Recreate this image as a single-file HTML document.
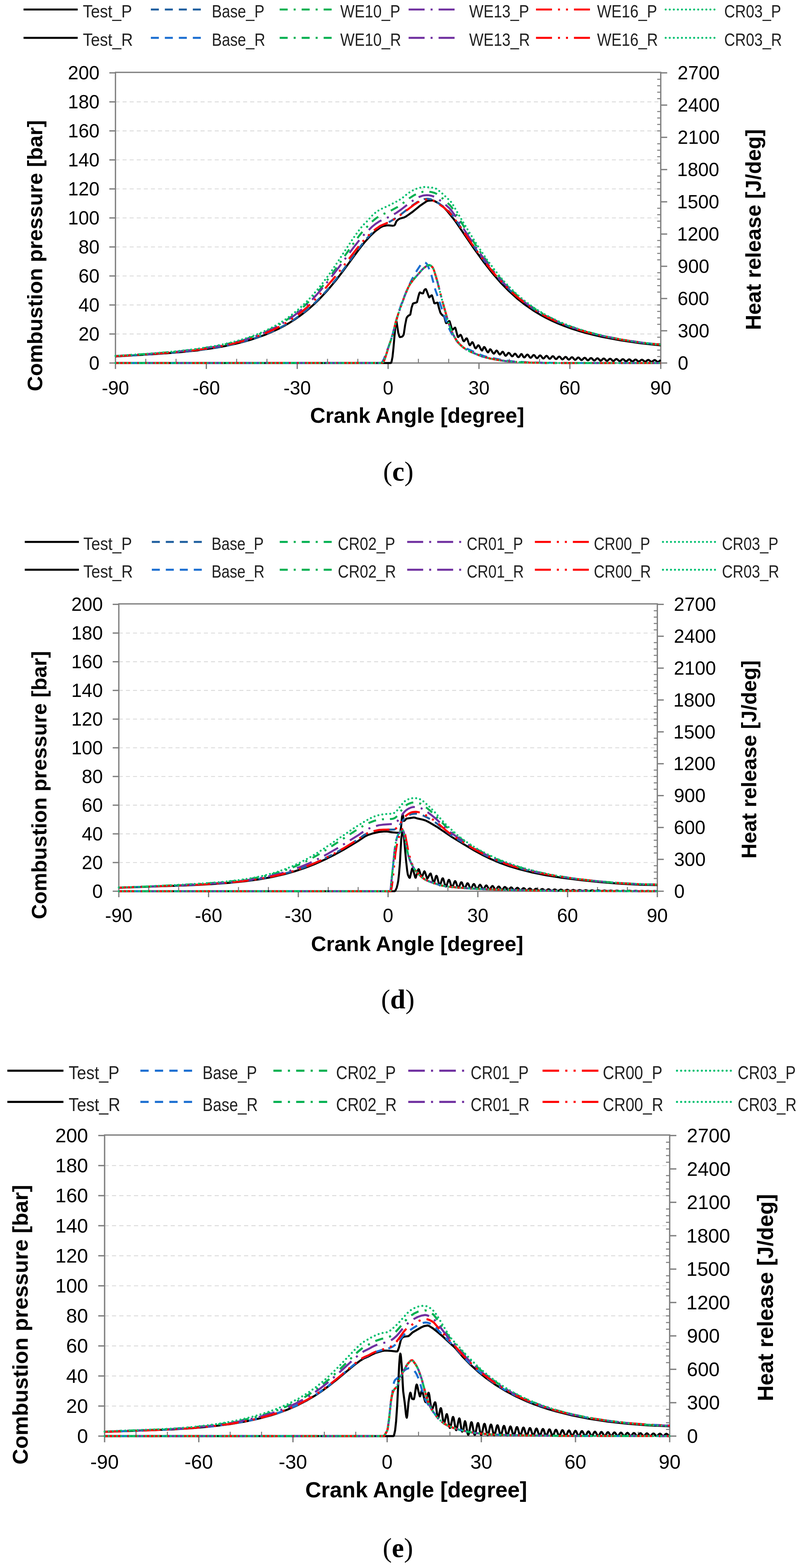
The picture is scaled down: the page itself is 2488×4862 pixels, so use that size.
<!DOCTYPE html>
<html><head><meta charset="utf-8"><title>Combustion pressure and heat release</title>
<style>html,body{margin:0;padding:0;background:#fff;}svg{display:block;}</style></head>
<body><svg width="2488" height="4862" viewBox="0 0 2488 4862" font-family="Liberation Sans, sans-serif">
<rect width="2488" height="4862" fill="#fff"/>
<line x1="358.2" y1="1035.63" x2="2049.8" y2="1035.63" stroke="#d9d9d9" stroke-width="2.6" stroke-dasharray="12.5 9.5"/>
<line x1="358.2" y1="945.66" x2="2049.8" y2="945.66" stroke="#d9d9d9" stroke-width="2.6" stroke-dasharray="12.5 9.5"/>
<line x1="358.2" y1="855.69" x2="2049.8" y2="855.69" stroke="#d9d9d9" stroke-width="2.6" stroke-dasharray="12.5 9.5"/>
<line x1="358.2" y1="765.72" x2="2049.8" y2="765.72" stroke="#d9d9d9" stroke-width="2.6" stroke-dasharray="12.5 9.5"/>
<line x1="358.2" y1="675.75" x2="2049.8" y2="675.75" stroke="#d9d9d9" stroke-width="2.6" stroke-dasharray="12.5 9.5"/>
<line x1="358.2" y1="585.78" x2="2049.8" y2="585.78" stroke="#d9d9d9" stroke-width="2.6" stroke-dasharray="12.5 9.5"/>
<line x1="358.2" y1="495.81" x2="2049.8" y2="495.81" stroke="#d9d9d9" stroke-width="2.6" stroke-dasharray="12.5 9.5"/>
<line x1="358.2" y1="405.84" x2="2049.8" y2="405.84" stroke="#d9d9d9" stroke-width="2.6" stroke-dasharray="12.5 9.5"/>
<line x1="358.2" y1="315.87" x2="2049.8" y2="315.87" stroke="#d9d9d9" stroke-width="2.6" stroke-dasharray="12.5 9.5"/>
<line x1="339.2" y1="1125.6" x2="358.2" y2="1125.6" stroke="#7f7f7f" stroke-width="4"/>
<line x1="339.2" y1="1035.63" x2="358.2" y2="1035.63" stroke="#7f7f7f" stroke-width="4"/>
<line x1="339.2" y1="945.66" x2="358.2" y2="945.66" stroke="#7f7f7f" stroke-width="4"/>
<line x1="339.2" y1="855.69" x2="358.2" y2="855.69" stroke="#7f7f7f" stroke-width="4"/>
<line x1="339.2" y1="765.72" x2="358.2" y2="765.72" stroke="#7f7f7f" stroke-width="4"/>
<line x1="339.2" y1="675.75" x2="358.2" y2="675.75" stroke="#7f7f7f" stroke-width="4"/>
<line x1="339.2" y1="585.78" x2="358.2" y2="585.78" stroke="#7f7f7f" stroke-width="4"/>
<line x1="339.2" y1="495.81" x2="358.2" y2="495.81" stroke="#7f7f7f" stroke-width="4"/>
<line x1="339.2" y1="405.84" x2="358.2" y2="405.84" stroke="#7f7f7f" stroke-width="4"/>
<line x1="339.2" y1="315.87" x2="358.2" y2="315.87" stroke="#7f7f7f" stroke-width="4"/>
<line x1="339.2" y1="225.9" x2="358.2" y2="225.9" stroke="#7f7f7f" stroke-width="4"/>
<line x1="2049.8" y1="1125.6" x2="2069.8" y2="1125.6" stroke="#7f7f7f" stroke-width="4"/>
<line x1="2038.8" y1="1105.61" x2="2049.8" y2="1105.61" stroke="#7f7f7f" stroke-width="3.2"/>
<line x1="2038.8" y1="1085.61" x2="2049.8" y2="1085.61" stroke="#7f7f7f" stroke-width="3.2"/>
<line x1="2038.8" y1="1065.62" x2="2049.8" y2="1065.62" stroke="#7f7f7f" stroke-width="3.2"/>
<line x1="2038.8" y1="1045.63" x2="2049.8" y2="1045.63" stroke="#7f7f7f" stroke-width="3.2"/>
<line x1="2049.8" y1="1025.63" x2="2069.8" y2="1025.63" stroke="#7f7f7f" stroke-width="4"/>
<line x1="2038.8" y1="1005.64" x2="2049.8" y2="1005.64" stroke="#7f7f7f" stroke-width="3.2"/>
<line x1="2038.8" y1="985.65" x2="2049.8" y2="985.65" stroke="#7f7f7f" stroke-width="3.2"/>
<line x1="2038.8" y1="965.65" x2="2049.8" y2="965.65" stroke="#7f7f7f" stroke-width="3.2"/>
<line x1="2038.8" y1="945.66" x2="2049.8" y2="945.66" stroke="#7f7f7f" stroke-width="3.2"/>
<line x1="2049.8" y1="925.67" x2="2069.8" y2="925.67" stroke="#7f7f7f" stroke-width="4"/>
<line x1="2038.8" y1="905.67" x2="2049.8" y2="905.67" stroke="#7f7f7f" stroke-width="3.2"/>
<line x1="2038.8" y1="885.68" x2="2049.8" y2="885.68" stroke="#7f7f7f" stroke-width="3.2"/>
<line x1="2038.8" y1="865.69" x2="2049.8" y2="865.69" stroke="#7f7f7f" stroke-width="3.2"/>
<line x1="2038.8" y1="845.69" x2="2049.8" y2="845.69" stroke="#7f7f7f" stroke-width="3.2"/>
<line x1="2049.8" y1="825.7" x2="2069.8" y2="825.7" stroke="#7f7f7f" stroke-width="4"/>
<line x1="2038.8" y1="805.71" x2="2049.8" y2="805.71" stroke="#7f7f7f" stroke-width="3.2"/>
<line x1="2038.8" y1="785.71" x2="2049.8" y2="785.71" stroke="#7f7f7f" stroke-width="3.2"/>
<line x1="2038.8" y1="765.72" x2="2049.8" y2="765.72" stroke="#7f7f7f" stroke-width="3.2"/>
<line x1="2038.8" y1="745.73" x2="2049.8" y2="745.73" stroke="#7f7f7f" stroke-width="3.2"/>
<line x1="2049.8" y1="725.73" x2="2069.8" y2="725.73" stroke="#7f7f7f" stroke-width="4"/>
<line x1="2038.8" y1="705.74" x2="2049.8" y2="705.74" stroke="#7f7f7f" stroke-width="3.2"/>
<line x1="2038.8" y1="685.75" x2="2049.8" y2="685.75" stroke="#7f7f7f" stroke-width="3.2"/>
<line x1="2038.8" y1="665.75" x2="2049.8" y2="665.75" stroke="#7f7f7f" stroke-width="3.2"/>
<line x1="2038.8" y1="645.76" x2="2049.8" y2="645.76" stroke="#7f7f7f" stroke-width="3.2"/>
<line x1="2049.8" y1="625.77" x2="2069.8" y2="625.77" stroke="#7f7f7f" stroke-width="4"/>
<line x1="2038.8" y1="605.77" x2="2049.8" y2="605.77" stroke="#7f7f7f" stroke-width="3.2"/>
<line x1="2038.8" y1="585.78" x2="2049.8" y2="585.78" stroke="#7f7f7f" stroke-width="3.2"/>
<line x1="2038.8" y1="565.79" x2="2049.8" y2="565.79" stroke="#7f7f7f" stroke-width="3.2"/>
<line x1="2038.8" y1="545.79" x2="2049.8" y2="545.79" stroke="#7f7f7f" stroke-width="3.2"/>
<line x1="2049.8" y1="525.8" x2="2069.8" y2="525.8" stroke="#7f7f7f" stroke-width="4"/>
<line x1="2038.8" y1="505.81" x2="2049.8" y2="505.81" stroke="#7f7f7f" stroke-width="3.2"/>
<line x1="2038.8" y1="485.81" x2="2049.8" y2="485.81" stroke="#7f7f7f" stroke-width="3.2"/>
<line x1="2038.8" y1="465.82" x2="2049.8" y2="465.82" stroke="#7f7f7f" stroke-width="3.2"/>
<line x1="2038.8" y1="445.83" x2="2049.8" y2="445.83" stroke="#7f7f7f" stroke-width="3.2"/>
<line x1="2049.8" y1="425.83" x2="2069.8" y2="425.83" stroke="#7f7f7f" stroke-width="4"/>
<line x1="2038.8" y1="405.84" x2="2049.8" y2="405.84" stroke="#7f7f7f" stroke-width="3.2"/>
<line x1="2038.8" y1="385.85" x2="2049.8" y2="385.85" stroke="#7f7f7f" stroke-width="3.2"/>
<line x1="2038.8" y1="365.85" x2="2049.8" y2="365.85" stroke="#7f7f7f" stroke-width="3.2"/>
<line x1="2038.8" y1="345.86" x2="2049.8" y2="345.86" stroke="#7f7f7f" stroke-width="3.2"/>
<line x1="2049.8" y1="325.87" x2="2069.8" y2="325.87" stroke="#7f7f7f" stroke-width="4"/>
<line x1="2038.8" y1="305.87" x2="2049.8" y2="305.87" stroke="#7f7f7f" stroke-width="3.2"/>
<line x1="2038.8" y1="285.88" x2="2049.8" y2="285.88" stroke="#7f7f7f" stroke-width="3.2"/>
<line x1="2038.8" y1="265.89" x2="2049.8" y2="265.89" stroke="#7f7f7f" stroke-width="3.2"/>
<line x1="2038.8" y1="245.89" x2="2049.8" y2="245.89" stroke="#7f7f7f" stroke-width="3.2"/>
<line x1="2049.8" y1="225.9" x2="2069.8" y2="225.9" stroke="#7f7f7f" stroke-width="4"/>
<line x1="358.2" y1="1125.6" x2="358.2" y2="1144.1" stroke="#7f7f7f" stroke-width="4"/>
<line x1="452.18" y1="1112.6" x2="452.18" y2="1125.6" stroke="#7f7f7f" stroke-width="3.2"/>
<line x1="546.16" y1="1112.6" x2="546.16" y2="1125.6" stroke="#7f7f7f" stroke-width="3.2"/>
<line x1="640.13" y1="1125.6" x2="640.13" y2="1144.1" stroke="#7f7f7f" stroke-width="4"/>
<line x1="734.11" y1="1112.6" x2="734.11" y2="1125.6" stroke="#7f7f7f" stroke-width="3.2"/>
<line x1="828.09" y1="1112.6" x2="828.09" y2="1125.6" stroke="#7f7f7f" stroke-width="3.2"/>
<line x1="922.07" y1="1125.6" x2="922.07" y2="1144.1" stroke="#7f7f7f" stroke-width="4"/>
<line x1="1016.04" y1="1112.6" x2="1016.04" y2="1125.6" stroke="#7f7f7f" stroke-width="3.2"/>
<line x1="1110.02" y1="1112.6" x2="1110.02" y2="1125.6" stroke="#7f7f7f" stroke-width="3.2"/>
<line x1="1204" y1="1125.6" x2="1204" y2="1144.1" stroke="#7f7f7f" stroke-width="4"/>
<line x1="1297.98" y1="1112.6" x2="1297.98" y2="1125.6" stroke="#7f7f7f" stroke-width="3.2"/>
<line x1="1391.96" y1="1112.6" x2="1391.96" y2="1125.6" stroke="#7f7f7f" stroke-width="3.2"/>
<line x1="1485.93" y1="1125.6" x2="1485.93" y2="1144.1" stroke="#7f7f7f" stroke-width="4"/>
<line x1="1579.91" y1="1112.6" x2="1579.91" y2="1125.6" stroke="#7f7f7f" stroke-width="3.2"/>
<line x1="1673.89" y1="1112.6" x2="1673.89" y2="1125.6" stroke="#7f7f7f" stroke-width="3.2"/>
<line x1="1767.87" y1="1125.6" x2="1767.87" y2="1144.1" stroke="#7f7f7f" stroke-width="4"/>
<line x1="1861.84" y1="1112.6" x2="1861.84" y2="1125.6" stroke="#7f7f7f" stroke-width="3.2"/>
<line x1="1955.82" y1="1112.6" x2="1955.82" y2="1125.6" stroke="#7f7f7f" stroke-width="3.2"/>
<line x1="2049.8" y1="1125.6" x2="2049.8" y2="1144.1" stroke="#7f7f7f" stroke-width="4"/>
<rect x="358.2" y="224.4" width="1691.6" height="901.2" fill="none" stroke="#7f7f7f" stroke-width="4"/>
<defs><clipPath id="clipc"><rect x="354.2" y="221.9" width="1699.6000000000001" height="911.6999999999999"/></clipPath></defs>
<g clip-path="url(#clipc)" fill="none" stroke-linejoin="round">
<path d="M358.2,1105.4L492.6,1097.2L552.7,1092.7L614.8,1086.3L670.7,1078.2L698.9,1073.0L725.7,1067.3L751.0,1061.1L775.5,1054.2L799.0,1046.6L821.0,1038.6L842.2,1029.8L862.9,1020.2L880.2,1011.2L897.2,1001.5L913.6,991.1L929.6,980.0L945.1,968.3L960.6,955.5L975.6,942.0L990.2,927.9L1016.0,900.3L1042.4,868.8L1066.3,837.6L1112.8,774.3L1129.3,753.3L1149.0,731.3L1164.5,716.8L1180.0,705.3L1188.0,701.2L1201.2,698.8L1206.3,698.8L1218.1,700.0L1223.7,698.7L1225.6,696.0L1229.8,686.0L1236.4,680.0L1241.6,677.4L1253.8,674.3L1259.9,671.0L1280.6,656.4L1303.6,637.6L1323.4,624.1L1327.6,622.6L1339.3,621.3L1343.1,621.6L1347.8,623.2L1363.3,632.0L1377.9,644.2L1388.7,656.0L1405.1,676.2L1415.0,689.4L1470.4,770.7L1499.6,811.3L1527.3,846.7L1554.5,877.9L1579.0,902.8L1604.3,925.7L1630.2,946.0L1657.4,964.7L1674.8,975.2L1693.2,985.2L1711.9,994.5L1731.2,1003.1L1751.4,1011.2L1772.6,1018.8L1794.7,1025.9L1817.7,1032.5L1842.6,1038.8L1868.4,1044.7L1924.3,1055.2L1985.9,1064.2L2049.8,1071.0" stroke="#000000" stroke-width="6.2" stroke-linejoin="round"/>
<path d="M358.2,1105.2L493.1,1096.9L553.7,1092.3L616.2,1085.7L672.6,1077.4L700.7,1072.1L727.5,1066.3L753.4,1059.8L777.8,1052.8L801.3,1045.0L823.4,1036.8L844.5,1027.8L865.2,1018.0L882.6,1008.7L899.5,998.8L915.5,988.5L931.5,977.2L947.0,965.2L962.0,952.6L977.0,938.9L991.6,924.5L1017.0,897.0L1042.8,865.6L1066.8,834.1L1112.4,771.5L1128.8,750.1L1147.6,728.9L1162.6,714.4L1175.3,704.0L1181.0,700.1L1211.5,686.2L1226.6,676.9L1243.5,664.9L1280.6,636.0L1295.2,626.1L1304.1,621.3L1311.1,618.7L1316.3,617.3L1325.2,616.4L1330.4,616.7L1338.4,618.4L1345.9,621.3L1352.0,624.4L1376.0,640.8L1392.9,655.6L1402.3,666.8L1415.5,684.2L1468.1,761.5L1494.9,799.1L1519.3,831.1L1542.8,859.2L1571.5,889.8L1586.0,903.9L1600.6,917.0L1615.6,929.5L1630.7,941.1L1646.6,952.5L1662.6,962.9L1680.0,973.2L1698.3,983.2L1717.1,992.4L1736.4,1000.9L1756.6,1009.0L1777.7,1016.6L1799.8,1023.7L1822.8,1030.3L1873.6,1042.7L1929.0,1053.3L1988.7,1062.2L2049.8,1068.8" stroke="#1f5f9f" stroke-width="6.2" stroke-dasharray="24.8 18.6"/>
<path d="M358.2,1104.0L478.5,1095.9L546.2,1090.3L610.1,1083.0L666.4,1074.2L694.2,1068.8L720.0,1062.9L744.4,1056.5L767.9,1049.5L790.5,1041.7L811.6,1033.4L831.8,1024.5L851.1,1014.9L868.0,1005.4L884.0,995.6L899.5,985.0L914.5,973.8L929.6,961.6L944.2,948.7L958.2,935.1L972.3,920.4L997.7,891.2L1025.4,855.5L1048.5,823.7L1095.0,756.9L1114.3,731.0L1126.9,715.6L1150.4,691.0L1157.5,684.3L1166.9,676.6L1179.1,668.5L1211.0,654.1L1233.1,641.9L1249.1,630.8L1269.3,615.0L1284.8,605.2L1295.2,600.0L1304.1,596.7L1313.0,594.5L1321.0,594.0L1329.0,594.2L1338.4,595.5L1346.8,597.7L1353.4,600.5L1374.6,616.5L1395.7,636.0L1400.9,642.1L1405.6,648.8L1457.7,732.2L1487.8,778.3L1513.7,814.9L1539.0,847.5L1553.1,864.1L1567.7,880.2L1582.3,895.2L1597.3,909.5L1612.3,922.7L1627.8,935.3L1643.8,947.2L1660.3,958.4L1677.6,969.2L1696.0,979.5L1714.8,989.1L1734.5,998.2L1755.2,1006.7L1776.3,1014.6L1798.4,1022.0L1821.9,1029.0L1847.3,1035.8L1874.1,1042.2L1930.4,1053.4L1990.1,1062.4L2049.8,1068.8" stroke="#00b050" stroke-width="6.2" stroke-dasharray="24.8 18.6 6.2 18.6"/>
<path d="M358.2,1104.2L480.8,1096.1L546.6,1090.8L609.6,1083.7L665.5,1075.2L693.2,1069.9L719.1,1064.2L744.0,1057.8L767.5,1050.9L790.0,1043.3L811.2,1035.2L831.4,1026.5L851.1,1016.9L867.6,1007.9L883.1,998.6L898.1,988.8L913.1,978.0L927.7,966.5L941.8,954.5L955.9,941.5L969.5,927.9L995.4,899.4L1027.8,859.3L1050.3,830.0L1096.4,768.0L1115.7,743.4L1128.8,728.3L1155.1,702.3L1165.0,694.4L1178.2,685.7L1211.0,670.9L1229.4,660.1L1244.4,649.6L1274.5,626.3L1291.9,614.9L1300.8,610.5L1309.3,607.3L1315.8,605.8L1324.3,605.2L1330.4,605.5L1338.9,607.1L1346.8,609.7L1353.4,612.9L1375.5,628.9L1393.8,645.3L1400.9,653.5L1408.9,664.6L1464.8,750.0L1491.6,789.2L1516.5,823.1L1540.9,853.4L1555.0,869.5L1569.6,885.1L1584.1,899.6L1599.2,913.5L1614.2,926.4L1629.2,938.2L1645.2,949.9L1661.2,960.5L1678.6,971.1L1696.9,981.2L1715.7,990.6L1735.0,999.3L1755.6,1007.8L1776.8,1015.5L1798.9,1022.8L1822.4,1029.7L1847.3,1036.2L1873.6,1042.4L1929.5,1053.3L1989.7,1062.3L2049.8,1068.8" stroke="#7030a0" stroke-width="6.2" stroke-dasharray="49.6 18.6 6.2 18.6"/>
<path d="M358.2,1104.7L486.5,1096.5L549.0,1091.6L611.5,1084.9L666.9,1076.6L694.6,1071.5L721.0,1065.8L745.9,1059.5L769.8,1052.6L792.8,1045.1L814.5,1037.0L835.1,1028.3L854.9,1019.0L871.3,1010.3L887.3,1001.0L902.8,991.1L917.8,980.6L932.4,969.6L947.0,957.5L961.1,944.9L974.7,931.8L999.6,905.3L1034.4,864.3L1057.9,834.9L1104.4,774.3L1122.7,751.7L1137.7,735.2L1156.1,717.6L1165.5,710.1L1179.1,700.7L1211.0,686.9L1225.6,678.3L1243.0,666.3L1282.9,636.0L1295.6,627.6L1304.1,623.1L1311.6,620.3L1316.3,619.2L1325.7,618.2L1330.9,618.6L1338.4,620.3L1345.9,623.2L1351.5,626.1L1376.0,642.7L1392.4,656.9L1402.3,668.6L1416.4,687.1L1468.5,763.2L1495.8,801.2L1519.8,832.3L1543.3,860.3L1571.9,890.8L1586.5,904.8L1601.1,917.8L1616.1,930.2L1631.1,941.8L1646.6,952.7L1662.6,963.1L1680.0,973.5L1697.9,983.1L1716.6,992.3L1735.9,1000.8L1756.1,1008.9L1777.3,1016.5L1799.3,1023.6L1822.4,1030.3L1847.3,1036.7L1873.1,1042.6L1928.6,1053.3L1988.2,1062.1L2049.8,1068.8" stroke="#ff0000" stroke-width="6.2" stroke-dasharray="49.6 18.6 6.2 18.6 6.2 18.6"/>
<path d="M358.2,1103.6L474.3,1095.6L544.7,1089.5L609.6,1081.9L666.9,1072.7L694.2,1067.2L720.0,1061.2L744.4,1054.6L767.9,1047.4L790.0,1039.6L810.7,1031.2L830.9,1022.0L850.2,1012.1L867.1,1002.3L883.1,992.1L898.6,981.2L913.6,969.5L928.2,957.2L942.7,943.8L957.3,929.1L971.4,913.9L996.3,884.0L1021.7,849.9L1045.2,815.7L1091.7,744.8L1111.9,716.2L1126.0,698.6L1138.7,686.1L1150.0,673.1L1158.0,665.1L1167.8,656.9L1180.0,649.2L1205.9,637.5L1235.5,622.3L1250.5,612.0L1266.0,599.3L1279.2,591.1L1289.0,586.4L1297.0,583.5L1308.8,580.7L1316.3,579.9L1338.4,581.4L1347.8,583.3L1353.4,585.3L1358.6,588.8L1371.8,599.7L1397.6,624.0L1404.6,633.7L1424.4,668.3L1460.1,727.4L1482.6,763.4L1510.4,804.7L1536.7,840.0L1551.2,857.9L1565.8,874.6L1580.4,890.1L1595.4,904.9L1610.9,919.0L1626.4,931.9L1642.4,944.1L1659.3,955.9L1676.7,967.0L1695.0,977.5L1713.8,987.3L1733.6,996.6L1754.2,1005.3L1775.9,1013.5L1798.4,1021.2L1821.9,1028.4L1847.7,1035.4L1874.5,1041.9L1902.7,1048.0L1931.9,1053.5L1961.5,1058.4L1991.5,1062.6L2021.1,1066.1L2049.8,1068.7" stroke="#00c070" stroke-width="6.2" stroke-linecap="round" stroke-dasharray="0.01 12.4"/>
<path d="M358.2,1125.6L1212.5,1125.6L1213.4,1124.7L1214.8,1121.0L1217.6,1107.0L1220.4,1080.9L1226.1,1017.0L1228.9,996.2L1229.4,995.3L1230.3,997.7L1235.5,1031.9L1238.8,1042.9L1240.2,1045.1L1241.1,1045.3L1246.3,1044.3L1249.1,1042.6L1251.9,1038.3L1252.9,1034.8L1256.6,1009.0L1260.9,987.5L1262.7,983.7L1265.1,980.7L1267.4,978.6L1271.7,976.5L1273.1,974.7L1276.8,954.2L1280.6,942.5L1282.5,940.5L1291.4,938.2L1293.7,936.7L1298.0,919.0L1300.8,909.6L1302.2,906.9L1303.6,906.9L1306.9,908.8L1309.3,909.6L1312.5,909.7L1316.3,899.7L1318.7,897.2L1320.5,896.3L1321.5,897.0L1322.9,899.8L1330.9,921.6L1332.3,922.2L1337.4,916.6L1338.9,915.7L1339.8,915.9L1341.2,919.0L1347.3,940.3L1348.7,940.6L1356.2,938.4L1357.7,938.7L1361.9,955.7L1366.1,969.4L1370.3,975.5L1376.9,980.7L1378.3,982.4L1382.6,998.7L1384.0,1002.0L1385.8,1001.8L1392.4,995.9L1393.8,995.3L1394.8,996.3L1395.7,998.8L1401.4,1019.1L1402.8,1022.4L1404.6,1022.1L1410.3,1016.7L1411.2,1016.1L1412.2,1016.2L1413.6,1019.7L1419.2,1041.5L1420.6,1045.0L1421.6,1045.2L1422.5,1044.6L1427.7,1038.5L1429.1,1038.1L1431.4,1041.7L1436.6,1055.6L1438.5,1058.2L1439.4,1058.2L1440.8,1057.1L1446.0,1049.7L1447.9,1049.1L1449.8,1051.8L1454.9,1066.7L1456.8,1070.1L1457.7,1070.6L1458.7,1070.2L1463.8,1061.8L1464.8,1061.1L1465.7,1061.1L1468.1,1064.5L1472.8,1076.8L1474.7,1079.8L1475.6,1080.3L1477.0,1079.6L1482.2,1071.8L1483.6,1070.7L1484.5,1070.7L1486.9,1073.2L1492.0,1083.6L1494.9,1086.9L1495.8,1086.8L1496.7,1085.6L1500.0,1078.1L1501.9,1075.9L1503.3,1076.6L1504.7,1078.2L1510.8,1089.6L1513.2,1092.3L1514.1,1092.6L1515.1,1092.1L1519.3,1084.1L1520.2,1083.1L1521.2,1083.0L1523.5,1085.1L1528.7,1093.8L1531.5,1096.5L1532.5,1096.5L1533.9,1095.4L1538.1,1088.8L1540.4,1086.9L1542.8,1088.6L1548.0,1097.0L1550.3,1099.2L1551.2,1099.2L1552.7,1098.2L1557.8,1091.3L1559.2,1090.6L1560.2,1091.0L1562.1,1093.3L1566.3,1101.3L1568.6,1103.3L1571.0,1101.8L1576.2,1094.9L1578.0,1093.9L1580.4,1095.2L1586.5,1103.2L1588.8,1104.9L1591.2,1103.9L1595.4,1098.2L1597.8,1096.6L1600.1,1098.1L1606.2,1106.6L1607.6,1107.5L1609.0,1107.5L1611.4,1105.6L1615.6,1098.8L1617.5,1097.6L1619.4,1099.0L1623.6,1106.4L1626.0,1108.4L1628.3,1107.7L1633.9,1100.5L1636.3,1099.3L1638.6,1100.8L1643.3,1107.7L1645.7,1109.6L1648.0,1108.9L1653.7,1101.8L1656.0,1100.7L1658.4,1102.1L1663.6,1109.3L1665.9,1110.7L1668.3,1109.6L1673.4,1103.1L1675.8,1102.0L1678.1,1103.4L1683.3,1110.4L1685.6,1111.7L1688.0,1110.6L1693.2,1104.3L1695.5,1103.2L1697.9,1104.6L1702.6,1110.9L1704.9,1112.6L1707.3,1112.0L1712.9,1105.4L1715.2,1104.4L1717.6,1105.7L1722.3,1111.8L1724.6,1113.5L1727.0,1112.9L1732.6,1106.5L1735.0,1105.5L1737.3,1106.7L1742.0,1112.7L1744.4,1114.4L1746.7,1113.8L1752.4,1107.5L1754.7,1106.5L1757.1,1107.7L1762.2,1114.0L1764.6,1115.2L1766.9,1114.2L1772.1,1108.5L1774.4,1107.5L1776.8,1108.7L1781.5,1114.3L1783.8,1115.9L1786.2,1115.3L1791.8,1109.4L1794.2,1108.4L1796.5,1109.6L1801.7,1115.5L1804.0,1116.6L1806.4,1115.7L1811.6,1110.2L1813.9,1109.3L1816.3,1110.4L1821.4,1116.2L1823.8,1117.3L1826.1,1116.4L1831.3,1111.0L1833.7,1110.1L1836.0,1111.2L1841.2,1116.8L1843.5,1117.9L1845.9,1117.0L1851.0,1111.8L1853.4,1110.9L1855.7,1111.9L1860.9,1117.4L1863.3,1118.5L1865.6,1117.6L1870.8,1112.5L1873.1,1111.6L1875.5,1112.7L1880.6,1118.0L1883.0,1119.0L1885.3,1118.1L1890.5,1113.2L1892.9,1112.3L1895.2,1113.3L1900.4,1118.5L1902.7,1119.5L1905.1,1118.6L1910.2,1113.8L1912.6,1113.0L1914.9,1114.0L1920.1,1119.0L1922.5,1120.0L1924.8,1119.1L1930.0,1114.4L1932.3,1113.6L1934.7,1114.6L1939.8,1119.5L1942.2,1120.4L1944.5,1119.6L1949.7,1115.0L1952.1,1114.2L1954.4,1115.1L1959.6,1119.9L1961.9,1120.8L1964.3,1120.0L1969.4,1115.5L1971.8,1114.8L1974.1,1115.7L1979.3,1120.3L1981.7,1121.2L1984.0,1120.4L1988.7,1116.4L1991.1,1115.3L1993.4,1115.9L1999.1,1120.7L2001.4,1121.5L2003.8,1120.8L2008.4,1116.8L2010.8,1115.8L2013.1,1116.4L2018.8,1121.1L2021.1,1121.9L2023.5,1121.1L2028.2,1117.3L2030.5,1116.3L2032.9,1116.8L2038.5,1121.4L2040.9,1122.2L2043.2,1121.5L2047.9,1117.7L2049.8,1116.8" stroke="#000000" stroke-width="6.2" stroke-linejoin="round"/>
<path d="M358.2,1125.6L1182.9,1125.5L1185.7,1122.8L1190.8,1113.6L1206.8,1071.0L1218.1,1036.3L1228.9,994.0L1237.8,964.5L1248.6,933.3L1262.3,899.6L1269.8,882.7L1277.8,866.4L1293.7,838.3L1306.0,819.8L1312.1,814.6L1316.3,813.0L1319.6,814.2L1324.3,818.4L1328.1,825.7L1338.9,854.9L1350.6,899.0L1362.4,932.1L1376.0,974.0L1391.5,1014.8L1397.6,1027.7L1404.6,1040.4L1410.3,1049.0L1418.7,1059.9L1425.3,1067.0L1431.0,1071.6L1438.0,1075.9L1452.1,1082.9L1490.6,1100.1L1501.0,1104.0L1516.9,1108.3L1564.4,1117.4L1591.2,1120.6L1632.5,1123.2L1671.1,1124.5L1747.2,1125.5L2049.8,1125.6" stroke="#1c6fd1" stroke-width="6.2" stroke-dasharray="24.8 18.6"/>
<path d="M358.2,1125.6L1185.2,1125.4L1187.6,1124.0L1190.4,1121.0L1194.1,1112.4L1204.9,1077.7L1217.6,1039.6L1228.4,996.4L1236.0,971.6L1254.7,919.2L1266.0,892.1L1271.7,881.8L1279.7,870.4L1308.8,837.0L1314.9,831.1L1323.4,825.0L1328.1,822.5L1331.8,821.7L1336.0,823.3L1341.7,828.6L1344.5,833.5L1347.3,840.9L1356.7,872.3L1371.8,932.0L1388.2,990.0L1396.7,1016.3L1404.6,1034.7L1410.3,1045.6L1415.9,1054.8L1420.6,1061.1L1428.1,1069.2L1436.1,1076.4L1444.6,1082.6L1453.0,1087.6L1462.9,1092.1L1495.8,1105.4L1520.7,1111.8L1541.4,1115.6L1568.2,1119.6L1610.0,1123.1L1652.3,1124.7L1712.4,1125.6L2049.8,1125.6" stroke="#00b050" stroke-width="6.2" stroke-dasharray="24.8 18.6 6.2 18.6"/>
<path d="M358.2,1125.6L1185.2,1125.4L1187.6,1124.0L1190.4,1121.0L1194.1,1112.4L1204.9,1077.7L1217.6,1039.6L1228.4,996.4L1236.0,971.6L1254.7,919.2L1266.0,892.1L1271.7,881.8L1279.7,870.4L1308.8,837.0L1314.9,831.1L1323.4,825.0L1328.1,822.5L1331.8,821.7L1336.0,823.3L1341.7,828.6L1344.5,833.5L1347.3,840.9L1356.7,872.3L1371.8,932.0L1388.2,990.0L1396.7,1016.3L1404.6,1034.7L1410.3,1045.6L1415.9,1054.8L1420.6,1061.1L1428.1,1069.2L1436.1,1076.4L1444.6,1082.6L1453.0,1087.6L1462.9,1092.1L1495.8,1105.4L1520.7,1111.8L1541.4,1115.6L1568.2,1119.6L1610.0,1123.1L1652.3,1124.7L1712.4,1125.6L2049.8,1125.6" stroke="#7030a0" stroke-width="6.2" stroke-dasharray="49.6 18.6 6.2 18.6"/>
<path d="M358.2,1125.6L1185.2,1125.4L1187.6,1124.0L1190.4,1121.0L1194.1,1112.4L1204.9,1077.7L1217.6,1039.6L1228.4,996.4L1236.0,971.6L1254.7,919.2L1266.0,892.1L1271.7,881.8L1279.7,870.4L1308.8,837.0L1314.9,831.1L1323.4,825.0L1328.1,822.5L1331.8,821.7L1336.0,823.3L1341.7,828.6L1344.5,833.5L1347.3,840.9L1356.7,872.3L1371.8,932.0L1388.2,990.0L1396.7,1016.3L1404.6,1034.7L1410.3,1045.6L1415.9,1054.8L1420.6,1061.1L1428.1,1069.2L1436.1,1076.4L1444.6,1082.6L1453.0,1087.6L1462.9,1092.1L1495.8,1105.4L1520.7,1111.8L1541.4,1115.6L1568.2,1119.6L1610.0,1123.1L1652.3,1124.7L1712.4,1125.6L2049.8,1125.6" stroke="#ff0000" stroke-width="6.2" stroke-dasharray="49.6 18.6 6.2 18.6 6.2 18.6"/>
<path d="M358.2,1125.6L1185.2,1125.4L1187.6,1124.0L1190.4,1121.0L1194.1,1112.4L1204.9,1077.7L1217.6,1039.6L1228.4,996.4L1236.0,971.6L1254.7,919.2L1266.0,892.1L1271.7,881.8L1279.7,870.4L1308.8,837.0L1314.9,831.1L1323.4,825.0L1328.1,822.5L1331.8,821.7L1336.0,823.3L1341.7,828.6L1344.5,833.5L1347.3,840.9L1356.7,872.3L1371.8,932.0L1388.2,990.0L1396.7,1016.3L1404.6,1034.7L1410.3,1045.6L1415.9,1054.8L1420.6,1061.1L1428.1,1069.2L1436.1,1076.4L1444.6,1082.6L1453.0,1087.6L1462.9,1092.1L1495.8,1105.4L1520.7,1111.8L1541.4,1115.6L1568.2,1119.6L1610.0,1123.1L1652.3,1124.7L1712.4,1125.6L2049.8,1125.6" stroke="#00c070" stroke-width="6.2" stroke-linecap="round" stroke-dasharray="0.01 12.4"/>
</g>
<g font-family="Liberation Sans, sans-serif" font-size="58.7" fill="#000">
<text x="275.97" y="1145.85" font-size="58.7" font-weight="normal" fill="#000">0</text>
<text x="243.39" y="1055.88" font-size="58.7" font-weight="normal" fill="#000">20</text>
<text x="243.39" y="965.91" font-size="58.7" font-weight="normal" fill="#000">40</text>
<text x="243.39" y="875.94" font-size="58.7" font-weight="normal" fill="#000">60</text>
<text x="243.39" y="785.97" font-size="58.7" font-weight="normal" fill="#000">80</text>
<text x="210.81" y="696" font-size="58.7" font-weight="normal" fill="#000">100</text>
<text x="210.81" y="606.03" font-size="58.7" font-weight="normal" fill="#000">120</text>
<text x="210.81" y="516.06" font-size="58.7" font-weight="normal" fill="#000">140</text>
<text x="210.81" y="426.09" font-size="58.7" font-weight="normal" fill="#000">160</text>
<text x="210.81" y="336.12" font-size="58.7" font-weight="normal" fill="#000">180</text>
<text x="210.81" y="246.15" font-size="58.7" font-weight="normal" fill="#000">200</text>
<text x="2102.65" y="1145.85" font-size="58.7" font-weight="normal" fill="#000">0</text>
<text x="2102.65" y="1045.88" font-size="58.7" font-weight="normal" fill="#000">300</text>
<text x="2102.07" y="945.92" font-size="58.7" font-weight="normal" fill="#000">600</text>
<text x="2102.36" y="845.95" font-size="58.7" font-weight="normal" fill="#000">900</text>
<text x="2100.6" y="745.98" font-size="58.7" font-weight="normal" fill="#000">1200</text>
<text x="2100.6" y="646.02" font-size="58.7" font-weight="normal" fill="#000">1500</text>
<text x="2100.6" y="546.05" font-size="58.7" font-weight="normal" fill="#000">1800</text>
<text x="2102.07" y="446.08" font-size="58.7" font-weight="normal" fill="#000">2100</text>
<text x="2102.07" y="346.12" font-size="58.7" font-weight="normal" fill="#000">2400</text>
<text x="2102.07" y="246.15" font-size="58.7" font-weight="normal" fill="#000">2700</text>
<text x="315.64" y="1223" font-size="58.7" font-weight="normal" fill="#000">-90</text>
<text x="597.58" y="1223" font-size="58.7" font-weight="normal" fill="#000">-60</text>
<text x="879.51" y="1223" font-size="58.7" font-weight="normal" fill="#000">-30</text>
<text x="1187.71" y="1223" font-size="58.7" font-weight="normal" fill="#000">0</text>
<text x="1453.35" y="1223" font-size="58.7" font-weight="normal" fill="#000">30</text>
<text x="1734.99" y="1223" font-size="58.7" font-weight="normal" fill="#000">60</text>
<text x="2017.07" y="1223" font-size="58.7" font-weight="normal" fill="#000">90</text>
</g>
<g font-family="Liberation Sans, sans-serif" fill="#000">
<text x="961.97" y="1311" font-size="65.95" font-weight="bold" fill="#000">Crank Angle [degree]</text>
<text transform="translate(131.3,793.65) rotate(-90)" x="-419.69" y="0" font-size="65.5" font-weight="bold" fill="#000">Combustion pressure [bar]</text>
<text transform="translate(2359.7,711.7) rotate(-90)" x="-311.78" y="0" font-size="65.95" font-weight="bold" fill="#000">Heat release [J/deg]</text>
</g>
<line x1="73" y1="29.5" x2="241" y2="29.5" fill="none" stroke="#000000" stroke-width="6.2" stroke-linejoin="round"/>
<line x1="73" y1="117.3" x2="241" y2="117.3" fill="none" stroke="#000000" stroke-width="6.2" stroke-linejoin="round"/>
<line x1="468" y1="29.5" x2="636" y2="29.5" fill="none" stroke="#1f5f9f" stroke-width="6.2" stroke-dasharray="24.8 18.6"/>
<line x1="468" y1="117.3" x2="636" y2="117.3" fill="none" stroke="#1c6fd1" stroke-width="6.2" stroke-dasharray="24.8 18.6"/>
<line x1="867.6" y1="29.5" x2="1035.6" y2="29.5" fill="none" stroke="#00b050" stroke-width="6.2" stroke-dasharray="24.8 18.6 6.2 18.6"/>
<line x1="867.6" y1="117.3" x2="1035.6" y2="117.3" fill="none" stroke="#00b050" stroke-width="6.2" stroke-dasharray="24.8 18.6 6.2 18.6"/>
<line x1="1267.6" y1="29.5" x2="1417.6" y2="29.5" fill="none" stroke="#7030a0" stroke-width="6.2" stroke-dasharray="49.6 18.6 6.2 18.6"/>
<line x1="1267.6" y1="117.3" x2="1417.6" y2="117.3" fill="none" stroke="#7030a0" stroke-width="6.2" stroke-dasharray="49.6 18.6 6.2 18.6"/>
<line x1="1662.8" y1="29.5" x2="1830.8" y2="29.5" fill="none" stroke="#ff0000" stroke-width="6.2" stroke-dasharray="49.6 18.6 6.2 18.6 6.2 18.6"/>
<line x1="1662.8" y1="117.3" x2="1830.8" y2="117.3" fill="none" stroke="#ff0000" stroke-width="6.2" stroke-dasharray="49.6 18.6 6.2 18.6 6.2 18.6"/>
<line x1="2065.1" y1="29.5" x2="2220.1" y2="29.5" fill="none" stroke="#00c070" stroke-width="6.2" stroke-linecap="round" stroke-dasharray="0.01 12.6"/>
<line x1="2065.1" y1="117.3" x2="2220.1" y2="117.3" fill="none" stroke="#00c070" stroke-width="6.2" stroke-linecap="round" stroke-dasharray="0.01 12.6"/>
<text x="256.95" y="53.9" font-size="55" fill="#222" textLength="152.55" lengthAdjust="spacingAndGlyphs">Test_P</text>
<text x="256.95" y="141.9" font-size="55" fill="#222" textLength="155.3" lengthAdjust="spacingAndGlyphs">Test_R</text>
<text x="657.07" y="53.9" font-size="55" fill="#222" textLength="163.18" lengthAdjust="spacingAndGlyphs">Base_P</text>
<text x="657.07" y="141.9" font-size="55" fill="#222" textLength="165.75" lengthAdjust="spacingAndGlyphs">Base_R</text>
<text x="1055.56" y="53.9" font-size="55" fill="#222" textLength="186.26" lengthAdjust="spacingAndGlyphs">WE10_P</text>
<text x="1055.56" y="141.9" font-size="55" fill="#222" textLength="188.87" lengthAdjust="spacingAndGlyphs">WE10_R</text>
<text x="1455.56" y="53.9" font-size="55" fill="#222" textLength="185.86" lengthAdjust="spacingAndGlyphs">WE13_P</text>
<text x="1455.56" y="141.9" font-size="55" fill="#222" textLength="188.45" lengthAdjust="spacingAndGlyphs">WE13_R</text>
<text x="1852.16" y="53.9" font-size="55" fill="#222" textLength="186.26" lengthAdjust="spacingAndGlyphs">WE16_P</text>
<text x="1852.16" y="141.9" font-size="55" fill="#222" textLength="188.87" lengthAdjust="spacingAndGlyphs">WE16_R</text>
<text x="2246.67" y="53.9" font-size="55" fill="#222" textLength="176.36" lengthAdjust="spacingAndGlyphs">CR03_P</text>
<text x="2246.67" y="141.9" font-size="55" fill="#222" textLength="178.94" lengthAdjust="spacingAndGlyphs">CR03_R</text>
<text x="1188.4" y="1490.3" font-family="Liberation Serif, serif" font-size="85" fill="#000">(<tspan font-weight="bold">c</tspan>)</text>
<line x1="368.6" y1="2674.55" x2="2039.2" y2="2674.55" stroke="#d9d9d9" stroke-width="2.6" stroke-dasharray="12.5 9.5"/>
<line x1="368.6" y1="2585.6" x2="2039.2" y2="2585.6" stroke="#d9d9d9" stroke-width="2.6" stroke-dasharray="12.5 9.5"/>
<line x1="368.6" y1="2496.65" x2="2039.2" y2="2496.65" stroke="#d9d9d9" stroke-width="2.6" stroke-dasharray="12.5 9.5"/>
<line x1="368.6" y1="2407.7" x2="2039.2" y2="2407.7" stroke="#d9d9d9" stroke-width="2.6" stroke-dasharray="12.5 9.5"/>
<line x1="368.6" y1="2318.75" x2="2039.2" y2="2318.75" stroke="#d9d9d9" stroke-width="2.6" stroke-dasharray="12.5 9.5"/>
<line x1="368.6" y1="2229.8" x2="2039.2" y2="2229.8" stroke="#d9d9d9" stroke-width="2.6" stroke-dasharray="12.5 9.5"/>
<line x1="368.6" y1="2140.85" x2="2039.2" y2="2140.85" stroke="#d9d9d9" stroke-width="2.6" stroke-dasharray="12.5 9.5"/>
<line x1="368.6" y1="2051.9" x2="2039.2" y2="2051.9" stroke="#d9d9d9" stroke-width="2.6" stroke-dasharray="12.5 9.5"/>
<line x1="368.6" y1="1962.95" x2="2039.2" y2="1962.95" stroke="#d9d9d9" stroke-width="2.6" stroke-dasharray="12.5 9.5"/>
<line x1="349.6" y1="2763.5" x2="368.6" y2="2763.5" stroke="#7f7f7f" stroke-width="4"/>
<line x1="349.6" y1="2674.55" x2="368.6" y2="2674.55" stroke="#7f7f7f" stroke-width="4"/>
<line x1="349.6" y1="2585.6" x2="368.6" y2="2585.6" stroke="#7f7f7f" stroke-width="4"/>
<line x1="349.6" y1="2496.65" x2="368.6" y2="2496.65" stroke="#7f7f7f" stroke-width="4"/>
<line x1="349.6" y1="2407.7" x2="368.6" y2="2407.7" stroke="#7f7f7f" stroke-width="4"/>
<line x1="349.6" y1="2318.75" x2="368.6" y2="2318.75" stroke="#7f7f7f" stroke-width="4"/>
<line x1="349.6" y1="2229.8" x2="368.6" y2="2229.8" stroke="#7f7f7f" stroke-width="4"/>
<line x1="349.6" y1="2140.85" x2="368.6" y2="2140.85" stroke="#7f7f7f" stroke-width="4"/>
<line x1="349.6" y1="2051.9" x2="368.6" y2="2051.9" stroke="#7f7f7f" stroke-width="4"/>
<line x1="349.6" y1="1962.95" x2="368.6" y2="1962.95" stroke="#7f7f7f" stroke-width="4"/>
<line x1="349.6" y1="1874" x2="368.6" y2="1874" stroke="#7f7f7f" stroke-width="4"/>
<line x1="2039.2" y1="2763.5" x2="2059.2" y2="2763.5" stroke="#7f7f7f" stroke-width="4"/>
<line x1="2028.2" y1="2743.73" x2="2039.2" y2="2743.73" stroke="#7f7f7f" stroke-width="3.2"/>
<line x1="2028.2" y1="2723.97" x2="2039.2" y2="2723.97" stroke="#7f7f7f" stroke-width="3.2"/>
<line x1="2028.2" y1="2704.2" x2="2039.2" y2="2704.2" stroke="#7f7f7f" stroke-width="3.2"/>
<line x1="2028.2" y1="2684.43" x2="2039.2" y2="2684.43" stroke="#7f7f7f" stroke-width="3.2"/>
<line x1="2039.2" y1="2664.67" x2="2059.2" y2="2664.67" stroke="#7f7f7f" stroke-width="4"/>
<line x1="2028.2" y1="2644.9" x2="2039.2" y2="2644.9" stroke="#7f7f7f" stroke-width="3.2"/>
<line x1="2028.2" y1="2625.13" x2="2039.2" y2="2625.13" stroke="#7f7f7f" stroke-width="3.2"/>
<line x1="2028.2" y1="2605.37" x2="2039.2" y2="2605.37" stroke="#7f7f7f" stroke-width="3.2"/>
<line x1="2028.2" y1="2585.6" x2="2039.2" y2="2585.6" stroke="#7f7f7f" stroke-width="3.2"/>
<line x1="2039.2" y1="2565.83" x2="2059.2" y2="2565.83" stroke="#7f7f7f" stroke-width="4"/>
<line x1="2028.2" y1="2546.07" x2="2039.2" y2="2546.07" stroke="#7f7f7f" stroke-width="3.2"/>
<line x1="2028.2" y1="2526.3" x2="2039.2" y2="2526.3" stroke="#7f7f7f" stroke-width="3.2"/>
<line x1="2028.2" y1="2506.53" x2="2039.2" y2="2506.53" stroke="#7f7f7f" stroke-width="3.2"/>
<line x1="2028.2" y1="2486.77" x2="2039.2" y2="2486.77" stroke="#7f7f7f" stroke-width="3.2"/>
<line x1="2039.2" y1="2467" x2="2059.2" y2="2467" stroke="#7f7f7f" stroke-width="4"/>
<line x1="2028.2" y1="2447.23" x2="2039.2" y2="2447.23" stroke="#7f7f7f" stroke-width="3.2"/>
<line x1="2028.2" y1="2427.47" x2="2039.2" y2="2427.47" stroke="#7f7f7f" stroke-width="3.2"/>
<line x1="2028.2" y1="2407.7" x2="2039.2" y2="2407.7" stroke="#7f7f7f" stroke-width="3.2"/>
<line x1="2028.2" y1="2387.93" x2="2039.2" y2="2387.93" stroke="#7f7f7f" stroke-width="3.2"/>
<line x1="2039.2" y1="2368.17" x2="2059.2" y2="2368.17" stroke="#7f7f7f" stroke-width="4"/>
<line x1="2028.2" y1="2348.4" x2="2039.2" y2="2348.4" stroke="#7f7f7f" stroke-width="3.2"/>
<line x1="2028.2" y1="2328.63" x2="2039.2" y2="2328.63" stroke="#7f7f7f" stroke-width="3.2"/>
<line x1="2028.2" y1="2308.87" x2="2039.2" y2="2308.87" stroke="#7f7f7f" stroke-width="3.2"/>
<line x1="2028.2" y1="2289.1" x2="2039.2" y2="2289.1" stroke="#7f7f7f" stroke-width="3.2"/>
<line x1="2039.2" y1="2269.33" x2="2059.2" y2="2269.33" stroke="#7f7f7f" stroke-width="4"/>
<line x1="2028.2" y1="2249.57" x2="2039.2" y2="2249.57" stroke="#7f7f7f" stroke-width="3.2"/>
<line x1="2028.2" y1="2229.8" x2="2039.2" y2="2229.8" stroke="#7f7f7f" stroke-width="3.2"/>
<line x1="2028.2" y1="2210.03" x2="2039.2" y2="2210.03" stroke="#7f7f7f" stroke-width="3.2"/>
<line x1="2028.2" y1="2190.27" x2="2039.2" y2="2190.27" stroke="#7f7f7f" stroke-width="3.2"/>
<line x1="2039.2" y1="2170.5" x2="2059.2" y2="2170.5" stroke="#7f7f7f" stroke-width="4"/>
<line x1="2028.2" y1="2150.73" x2="2039.2" y2="2150.73" stroke="#7f7f7f" stroke-width="3.2"/>
<line x1="2028.2" y1="2130.97" x2="2039.2" y2="2130.97" stroke="#7f7f7f" stroke-width="3.2"/>
<line x1="2028.2" y1="2111.2" x2="2039.2" y2="2111.2" stroke="#7f7f7f" stroke-width="3.2"/>
<line x1="2028.2" y1="2091.43" x2="2039.2" y2="2091.43" stroke="#7f7f7f" stroke-width="3.2"/>
<line x1="2039.2" y1="2071.67" x2="2059.2" y2="2071.67" stroke="#7f7f7f" stroke-width="4"/>
<line x1="2028.2" y1="2051.9" x2="2039.2" y2="2051.9" stroke="#7f7f7f" stroke-width="3.2"/>
<line x1="2028.2" y1="2032.13" x2="2039.2" y2="2032.13" stroke="#7f7f7f" stroke-width="3.2"/>
<line x1="2028.2" y1="2012.37" x2="2039.2" y2="2012.37" stroke="#7f7f7f" stroke-width="3.2"/>
<line x1="2028.2" y1="1992.6" x2="2039.2" y2="1992.6" stroke="#7f7f7f" stroke-width="3.2"/>
<line x1="2039.2" y1="1972.83" x2="2059.2" y2="1972.83" stroke="#7f7f7f" stroke-width="4"/>
<line x1="2028.2" y1="1953.07" x2="2039.2" y2="1953.07" stroke="#7f7f7f" stroke-width="3.2"/>
<line x1="2028.2" y1="1933.3" x2="2039.2" y2="1933.3" stroke="#7f7f7f" stroke-width="3.2"/>
<line x1="2028.2" y1="1913.53" x2="2039.2" y2="1913.53" stroke="#7f7f7f" stroke-width="3.2"/>
<line x1="2028.2" y1="1893.77" x2="2039.2" y2="1893.77" stroke="#7f7f7f" stroke-width="3.2"/>
<line x1="2039.2" y1="1874" x2="2059.2" y2="1874" stroke="#7f7f7f" stroke-width="4"/>
<line x1="368.6" y1="2763.5" x2="368.6" y2="2782" stroke="#7f7f7f" stroke-width="4"/>
<line x1="461.41" y1="2750.5" x2="461.41" y2="2763.5" stroke="#7f7f7f" stroke-width="3.2"/>
<line x1="554.22" y1="2750.5" x2="554.22" y2="2763.5" stroke="#7f7f7f" stroke-width="3.2"/>
<line x1="647.03" y1="2763.5" x2="647.03" y2="2782" stroke="#7f7f7f" stroke-width="4"/>
<line x1="739.84" y1="2750.5" x2="739.84" y2="2763.5" stroke="#7f7f7f" stroke-width="3.2"/>
<line x1="832.66" y1="2750.5" x2="832.66" y2="2763.5" stroke="#7f7f7f" stroke-width="3.2"/>
<line x1="925.47" y1="2763.5" x2="925.47" y2="2782" stroke="#7f7f7f" stroke-width="4"/>
<line x1="1018.28" y1="2750.5" x2="1018.28" y2="2763.5" stroke="#7f7f7f" stroke-width="3.2"/>
<line x1="1111.09" y1="2750.5" x2="1111.09" y2="2763.5" stroke="#7f7f7f" stroke-width="3.2"/>
<line x1="1203.9" y1="2763.5" x2="1203.9" y2="2782" stroke="#7f7f7f" stroke-width="4"/>
<line x1="1296.71" y1="2750.5" x2="1296.71" y2="2763.5" stroke="#7f7f7f" stroke-width="3.2"/>
<line x1="1389.52" y1="2750.5" x2="1389.52" y2="2763.5" stroke="#7f7f7f" stroke-width="3.2"/>
<line x1="1482.33" y1="2763.5" x2="1482.33" y2="2782" stroke="#7f7f7f" stroke-width="4"/>
<line x1="1575.14" y1="2750.5" x2="1575.14" y2="2763.5" stroke="#7f7f7f" stroke-width="3.2"/>
<line x1="1667.96" y1="2750.5" x2="1667.96" y2="2763.5" stroke="#7f7f7f" stroke-width="3.2"/>
<line x1="1760.77" y1="2763.5" x2="1760.77" y2="2782" stroke="#7f7f7f" stroke-width="4"/>
<line x1="1853.58" y1="2750.5" x2="1853.58" y2="2763.5" stroke="#7f7f7f" stroke-width="3.2"/>
<line x1="1946.39" y1="2750.5" x2="1946.39" y2="2763.5" stroke="#7f7f7f" stroke-width="3.2"/>
<line x1="2039.2" y1="2763.5" x2="2039.2" y2="2782" stroke="#7f7f7f" stroke-width="4"/>
<rect x="368.6" y="1872.5" width="1670.6" height="891" fill="none" stroke="#7f7f7f" stroke-width="4"/>
<defs><clipPath id="clipd"><rect x="364.6" y="1870" width="1678.6" height="901.5"/></clipPath></defs>
<g clip-path="url(#clipd)" fill="none" stroke-linejoin="round">
<path d="M368.6,2752.8L592.3,2744.8L654.5,2741.6L706.4,2737.9L757.0,2733.0L802.5,2726.9L844.3,2719.5L883.2,2710.6L914.3,2701.8L945.0,2691.6L974.7,2680.1L1004.8,2666.7L1034.1,2652.2L1064.7,2635.5L1110.2,2608.4L1132.0,2593.6L1141.7,2589.0L1155.6,2584.6L1167.7,2581.4L1175.6,2579.9L1190.4,2578.3L1200.2,2578.2L1219.2,2581.1L1230.4,2582.0L1240.1,2582.0L1241.0,2580.7L1242.0,2577.3L1244.3,2563.4L1247.1,2532.2L1248.4,2528.1L1249.8,2526.4L1253.1,2545.6L1254.5,2545.0L1256.8,2542.9L1260.5,2538.5L1283.3,2534.9L1286.5,2535.3L1293.9,2537.6L1311.6,2541.5L1320.4,2544.3L1329.7,2548.9L1355.6,2564.0L1400.2,2594.3L1450.8,2625.2L1473.5,2638.5L1494.9,2650.1L1523.2,2663.9L1551.5,2675.8L1580.7,2686.3L1611.8,2695.6L1651.2,2705.4L1694.9,2714.1L1744.1,2721.9L1799.7,2729.0L1862.9,2735.4L1926.4,2740.3L1985.8,2743.3L2039.2,2744.4" stroke="#000000" stroke-width="6.2" stroke-linejoin="round"/>
<path d="M368.6,2752.5L587.2,2744.4L648.0,2741.2L699.0,2737.7L748.7,2732.9L793.2,2727.1L834.0,2720.1L872.1,2711.6L905.0,2702.6L937.1,2692.0L968.6,2679.7L999.7,2665.8L1031.3,2649.8L1063.8,2631.6L1109.7,2603.3L1131.5,2587.9L1140.3,2583.4L1160.7,2576.8L1175.6,2573.5L1189.5,2572.4L1222.5,2572.3L1225.2,2571.5L1232.2,2566.6L1235.5,2563.4L1242.0,2555.5L1249.8,2543.9L1256.8,2536.1L1261.9,2531.6L1268.4,2527.7L1274.9,2525.0L1282.8,2523.5L1290.2,2522.9L1298.1,2523.9L1310.6,2527.6L1326.9,2535.7L1338.9,2542.5L1355.2,2553.4L1382.6,2576.6L1403.0,2592.4L1458.7,2626.3L1488.8,2643.4L1516.7,2657.3L1544.5,2669.5L1573.3,2680.4L1603.5,2690.0L1643.8,2700.6L1688.4,2710.0L1739.0,2718.6L1795.6,2726.3L1860.1,2733.2L1924.6,2738.6L1984.9,2741.9L2039.2,2743.0" stroke="#1f5f9f" stroke-width="6.2" stroke-dasharray="24.8 18.6"/>
<path d="M368.6,2752.1L448.4,2749.2L568.1,2743.6L639.6,2739.4L694.4,2735.2L741.2,2730.2L782.5,2724.1L820.1,2716.7L855.4,2707.7L883.7,2698.8L911.1,2688.4L938.0,2676.5L965.4,2662.5L989.0,2649.1L1014.1,2633.7L1111.1,2570.2L1131.5,2558.1L1142.6,2552.3L1159.8,2545.6L1174.2,2541.9L1185.3,2540.5L1203.9,2540.1L1215.0,2539.3L1219.2,2538.7L1223.4,2537.2L1228.0,2534.1L1232.2,2530.0L1249.8,2506.7L1254.5,2501.5L1258.2,2498.2L1264.2,2494.1L1271.7,2490.8L1278.1,2488.8L1285.1,2488.1L1294.4,2489.0L1304.6,2491.9L1312.0,2496.2L1325.5,2506.3L1335.7,2514.8L1351.0,2529.2L1380.2,2559.5L1398.8,2576.4L1426.6,2598.6L1457.7,2620.1L1487.9,2638.1L1519.0,2654.0L1551.9,2668.4L1587.2,2681.5L1629.9,2694.5L1675.8,2705.8L1726.0,2715.7L1780.7,2724.2L1841.0,2731.3L1905.1,2736.9L1972.4,2740.9L2039.2,2743.1" stroke="#00b050" stroke-width="6.2" stroke-dasharray="24.8 18.6 6.2 18.6"/>
<path d="M368.6,2752.3L469.8,2748.7L583.5,2743.8L648.0,2740.3L700.4,2736.4L749.1,2731.4L792.7,2725.2L832.2,2717.8L869.3,2708.8L899.9,2699.6L929.6,2689.0L958.9,2676.8L988.6,2662.5L1016.9,2647.4L1048.0,2629.4L1111.1,2589.9L1132.0,2575.4L1144.0,2569.2L1161.7,2562.5L1175.6,2558.8L1187.2,2557.2L1216.9,2555.1L1224.3,2553.3L1228.5,2550.4L1233.6,2545.3L1240.6,2536.4L1250.3,2522.4L1255.4,2516.5L1260.5,2511.8L1267.0,2507.6L1274.9,2504.0L1280.0,2502.7L1287.0,2502.2L1296.2,2503.1L1306.5,2506.2L1313.4,2509.9L1327.8,2519.4L1338.5,2527.4L1351.9,2538.5L1382.1,2567.4L1402.5,2584.6L1437.3,2609.2L1468.4,2628.9L1498.1,2645.4L1528.7,2660.3L1560.3,2673.3L1593.7,2685.0L1635.0,2696.9L1680.5,2707.5L1730.6,2716.8L1785.8,2724.9L1848.0,2732.1L1913.0,2737.6L1977.9,2741.3L2039.2,2743.0" stroke="#7030a0" stroke-width="6.2" stroke-dasharray="49.6 18.6 6.2 18.6"/>
<path d="M368.6,2752.5L589.0,2744.3L650.3,2741.1L701.8,2737.4L751.9,2732.5L796.5,2726.6L837.8,2719.3L876.3,2710.6L908.8,2701.4L940.3,2690.8L971.4,2678.5L1002.0,2664.7L1033.1,2648.8L1065.1,2630.8L1110.6,2602.7L1131.5,2587.9L1139.9,2583.6L1160.3,2576.9L1175.6,2573.5L1188.1,2572.5L1222.5,2572.3L1224.3,2571.7L1228.5,2568.8L1235.0,2562.5L1241.5,2553.8L1250.3,2540.2L1256.8,2532.3L1261.9,2527.2L1268.9,2522.5L1275.8,2519.1L1281.4,2517.8L1289.3,2517.1L1297.6,2518.1L1309.2,2521.6L1317.6,2525.7L1334.8,2535.7L1354.3,2549.3L1382.6,2574.2L1403.0,2590.3L1451.7,2621.2L1482.3,2639.0L1511.1,2653.9L1539.9,2666.9L1569.6,2678.4L1600.7,2688.6L1641.5,2699.7L1686.1,2709.3L1736.2,2718.0L1792.3,2725.8L1856.4,2732.9L1921.3,2738.3L1983.0,2741.7L2039.2,2743.0" stroke="#ff0000" stroke-width="6.2" stroke-dasharray="49.6 18.6 6.2 18.6 6.2 18.6"/>
<path d="M368.6,2751.9L443.3,2749.3L558.9,2743.5L637.3,2738.8L694.4,2734.2L740.3,2729.0L781.1,2722.7L818.3,2715.1L852.6,2705.8L880.0,2696.7L906.9,2686.0L932.9,2673.8L959.3,2659.6L980.7,2646.9L1003.9,2632.1L1099.5,2566.9L1130.1,2547.9L1148.2,2537.5L1163.5,2530.8L1178.4,2526.5L1193.7,2524.3L1216.9,2522.9L1222.5,2520.9L1227.6,2517.7L1230.4,2515.1L1246.1,2495.0L1252.6,2487.5L1256.3,2484.1L1261.9,2480.5L1267.5,2478.0L1276.8,2475.3L1283.3,2474.4L1291.6,2475.2L1301.8,2477.6L1307.4,2480.4L1313.9,2485.2L1327.3,2496.7L1335.7,2504.8L1354.3,2524.5L1377.9,2551.2L1390.5,2563.6L1420.6,2590.7L1435.5,2602.3L1450.8,2613.2L1480.0,2631.7L1511.1,2648.4L1544.5,2663.8L1580.7,2677.8L1624.3,2691.8L1671.2,2704.1L1721.8,2714.6L1776.1,2723.4L1834.6,2730.7L1898.1,2736.4L1966.3,2740.5L2039.2,2743.1" stroke="#00c070" stroke-width="6.2" stroke-linecap="round" stroke-dasharray="0.01 12.4"/>
<path d="M368.6,2763.5L1224.3,2763.5L1226.6,2761.4L1230.4,2753.5L1233.1,2743.3L1235.5,2730.9L1237.8,2710.1L1240.6,2676.7L1244.7,2601.9L1247.5,2581.4L1248.4,2578.9L1250.3,2577.4L1251.2,2580.8L1253.1,2596.3L1259.6,2667.8L1263.3,2700.8L1265.2,2711.9L1268.9,2720.3L1270.3,2721.7L1271.2,2722.0L1272.1,2720.3L1277.7,2695.6L1279.1,2692.7L1280.0,2693.5L1281.4,2696.8L1287.9,2719.9L1288.8,2721.7L1289.8,2721.7L1296.7,2698.1L1297.6,2695.8L1298.6,2695.0L1300.4,2697.6L1306.5,2717.5L1307.8,2719.7L1309.7,2717.5L1315.3,2703.3L1316.7,2701.6L1318.5,2704.3L1324.1,2721.8L1325.5,2724.0L1327.3,2722.1L1333.8,2710.0L1335.2,2708.6L1336.2,2708.7L1337.5,2712.1L1341.3,2725.4L1343.6,2735.5L1345.0,2738.7L1345.9,2738.2L1347.3,2734.9L1351.9,2718.3L1353.3,2715.9L1354.3,2715.7L1355.2,2716.7L1356.6,2720.3L1361.7,2741.4L1363.1,2744.5L1364.0,2745.3L1364.9,2744.8L1365.9,2743.3L1371.0,2726.7L1372.4,2723.9L1373.3,2723.3L1374.2,2723.8L1375.6,2726.5L1380.7,2745.0L1382.1,2748.1L1383.0,2749.0L1384.0,2748.8L1385.3,2746.7L1390.5,2731.0L1391.8,2728.6L1392.8,2728.2L1393.7,2728.8L1395.1,2731.5L1399.7,2746.8L1402.1,2751.0L1403.0,2751.1L1404.4,2749.5L1409.5,2735.2L1410.9,2732.7L1412.3,2732.1L1414.1,2734.4L1419.2,2749.4L1421.5,2752.8L1422.5,2752.7L1423.9,2751.0L1429.0,2737.9L1430.4,2735.9L1431.3,2735.5L1432.2,2735.9L1433.6,2737.9L1438.2,2750.6L1440.6,2754.2L1441.5,2754.3L1442.9,2753.1L1448.5,2740.4L1449.8,2738.7L1450.8,2738.5L1453.1,2741.0L1458.2,2753.4L1459.6,2755.2L1460.5,2755.6L1462.4,2754.2L1467.5,2743.3L1469.8,2741.1L1470.7,2741.3L1472.1,2742.9L1476.8,2753.3L1479.1,2756.4L1480.0,2756.6L1481.4,2755.6L1487.0,2745.1L1489.3,2743.3L1491.6,2745.3L1496.7,2755.5L1499.0,2757.4L1501.4,2755.7L1506.5,2746.7L1508.8,2745.3L1511.1,2747.4L1516.2,2756.6L1518.5,2758.1L1520.8,2756.3L1525.5,2748.7L1527.8,2747.1L1530.1,2748.6L1535.2,2757.0L1537.6,2758.7L1539.9,2757.4L1545.0,2749.9L1547.3,2748.7L1549.6,2750.3L1554.7,2758.0L1557.0,2759.3L1558.9,2758.4L1564.0,2751.6L1566.3,2750.2L1568.6,2751.3L1573.8,2758.3L1576.1,2759.8L1578.4,2758.8L1583.5,2752.6L1585.8,2751.5L1588.1,2752.7L1593.2,2759.1L1595.6,2760.2L1597.9,2759.2L1603.0,2753.6L1605.3,2752.7L1607.6,2754.0L1612.7,2759.8L1615.1,2760.7L1617.4,2759.6L1622.0,2754.8L1624.3,2753.8L1626.7,2754.7L1631.8,2760.0L1634.1,2761.1L1636.4,2760.3L1641.5,2755.6L1643.8,2754.8L1646.1,2755.8L1651.2,2760.6L1653.6,2761.4L1655.4,2760.8L1660.5,2756.6L1662.9,2755.7L1665.2,2756.4L1670.3,2760.8L1672.6,2761.7L1674.9,2761.1L1680.0,2757.2L1682.3,2756.5L1684.7,2757.2L1689.8,2761.2L1692.1,2761.9L1694.4,2761.3L1699.5,2757.7L1701.8,2757.2L1704.2,2758.0L1709.3,2761.6L1711.6,2762.1L1713.9,2761.5L1718.5,2758.5L1720.9,2757.8L1723.2,2758.4L1728.3,2761.7L1730.6,2762.3L1732.9,2761.8L1738.0,2758.9L1740.3,2758.4L1742.7,2759.0L1747.8,2762.0L1750.1,2762.5L1759.4,2758.9L1761.7,2759.3L1766.8,2762.0L1769.1,2762.6L1771.4,2762.2L1776.5,2759.8L1778.9,2759.4L1788.6,2762.7L1790.9,2762.3L1796.0,2760.1L1798.4,2759.8L1807.6,2762.8L1817.4,2760.1L1827.1,2762.9L1836.9,2760.5L1846.6,2763.0L1855.9,2760.8L1865.6,2763.1L1875.4,2761.0L1885.1,2763.1L1894.9,2761.3L1904.2,2763.2L1913.9,2761.5L1923.7,2763.3L1933.4,2761.7L1942.7,2763.3L1952.4,2761.9L1962.2,2763.4L1971.9,2762.1L1981.2,2763.4L1991.4,2762.3L2000.7,2763.4L2010.4,2762.4L2019.7,2763.5L2029.9,2762.5L2039.2,2763.5" stroke="#000000" stroke-width="6.2" stroke-linejoin="round"/>
<path d="M368.6,2763.5L1209.0,2763.4L1210.9,2761.9L1211.8,2757.7L1222.9,2649.3L1226.2,2622.0L1228.0,2610.8L1231.7,2596.3L1235.0,2588.4L1237.3,2584.8L1245.2,2575.2L1247.1,2573.5L1248.4,2573.1L1249.4,2573.6L1250.8,2575.9L1253.1,2582.4L1264.7,2644.0L1267.9,2656.9L1271.7,2667.6L1276.3,2678.2L1281.4,2688.1L1286.5,2696.2L1293.0,2704.5L1300.4,2712.5L1310.6,2721.6L1318.5,2727.3L1332.0,2733.4L1359.4,2742.8L1369.6,2745.8L1381.6,2748.0L1397.4,2750.0L1451.7,2754.6L1503.2,2757.2L1575.1,2759.5L1653.1,2761.3L1740.8,2762.4L2039.2,2763.5" stroke="#1c6fd1" stroke-width="6.2" stroke-dasharray="24.8 18.6"/>
<path d="M368.6,2763.5L1209.0,2763.4L1210.9,2761.9L1211.8,2757.7L1222.9,2649.3L1226.2,2622.0L1228.0,2610.8L1231.7,2596.3L1235.0,2588.4L1237.3,2584.8L1245.2,2575.2L1247.1,2573.5L1248.4,2573.1L1249.4,2573.6L1250.8,2575.9L1253.1,2582.4L1264.7,2644.0L1267.9,2656.9L1271.7,2667.6L1276.3,2678.2L1281.4,2688.1L1286.5,2696.2L1293.0,2704.5L1300.4,2712.5L1310.6,2721.6L1318.5,2727.3L1332.0,2733.4L1359.4,2742.8L1369.6,2745.8L1381.6,2748.0L1397.4,2750.0L1451.7,2754.6L1503.2,2757.2L1575.1,2759.5L1653.1,2761.3L1740.8,2762.4L2039.2,2763.5" stroke="#00b050" stroke-width="6.2" stroke-dasharray="24.8 18.6 6.2 18.6"/>
<path d="M368.6,2763.5L1209.0,2763.4L1210.9,2761.9L1211.8,2757.7L1222.9,2649.3L1226.2,2622.0L1228.0,2610.8L1231.7,2596.3L1235.0,2588.4L1237.3,2584.8L1245.2,2575.2L1247.1,2573.5L1248.4,2573.1L1249.4,2573.6L1250.8,2575.9L1253.1,2582.4L1264.7,2644.0L1267.9,2656.9L1271.7,2667.6L1276.3,2678.2L1281.4,2688.1L1286.5,2696.2L1293.0,2704.5L1300.4,2712.5L1310.6,2721.6L1318.5,2727.3L1332.0,2733.4L1359.4,2742.8L1369.6,2745.8L1381.6,2748.0L1397.4,2750.0L1451.7,2754.6L1503.2,2757.2L1575.1,2759.5L1653.1,2761.3L1740.8,2762.4L2039.2,2763.5" stroke="#7030a0" stroke-width="6.2" stroke-dasharray="49.6 18.6 6.2 18.6"/>
<path d="M368.6,2763.5L1211.3,2763.5L1212.3,2762.5L1214.1,2756.9L1216.0,2746.7L1219.7,2715.6L1226.6,2647.3L1230.4,2624.0L1234.1,2607.8L1238.7,2592.7L1246.1,2574.2L1248.0,2571.2L1249.4,2570.4L1251.2,2571.6L1253.6,2574.9L1256.3,2583.7L1265.6,2634.0L1273.5,2666.4L1280.0,2683.3L1287.9,2697.2L1293.9,2705.3L1300.9,2712.8L1310.6,2721.6L1318.5,2727.3L1332.0,2733.4L1359.4,2742.8L1369.1,2745.7L1381.2,2747.9L1396.9,2750.0L1450.8,2754.5L1501.8,2757.2L1573.3,2759.5L1652.2,2761.3L1739.9,2762.4L2039.2,2763.5" stroke="#ff0000" stroke-width="6.2" stroke-dasharray="49.6 18.6 6.2 18.6 6.2 18.6"/>
<path d="M368.6,2763.5L1209.0,2763.4L1210.9,2761.9L1211.8,2757.7L1222.9,2649.3L1226.2,2622.0L1228.0,2610.8L1231.7,2596.3L1235.0,2588.4L1237.3,2584.8L1245.2,2575.2L1247.1,2573.5L1248.4,2573.1L1249.4,2573.6L1250.8,2575.9L1253.1,2582.4L1264.7,2644.0L1267.9,2656.9L1271.7,2667.6L1276.3,2678.2L1281.4,2688.1L1286.5,2696.2L1293.0,2704.5L1300.4,2712.5L1310.6,2721.6L1318.5,2727.3L1332.0,2733.4L1359.4,2742.8L1369.6,2745.8L1381.6,2748.0L1397.4,2750.0L1451.7,2754.6L1503.2,2757.2L1575.1,2759.5L1653.1,2761.3L1740.8,2762.4L2039.2,2763.5" stroke="#00c070" stroke-width="6.2" stroke-linecap="round" stroke-dasharray="0.01 12.4"/>
</g>
<g font-family="Liberation Sans, sans-serif" font-size="58.7" fill="#000">
<text x="286.37" y="2783.75" font-size="58.7" font-weight="normal" fill="#000">0</text>
<text x="253.79" y="2694.8" font-size="58.7" font-weight="normal" fill="#000">20</text>
<text x="253.79" y="2605.85" font-size="58.7" font-weight="normal" fill="#000">40</text>
<text x="253.79" y="2516.9" font-size="58.7" font-weight="normal" fill="#000">60</text>
<text x="253.79" y="2427.95" font-size="58.7" font-weight="normal" fill="#000">80</text>
<text x="221.21" y="2339" font-size="58.7" font-weight="normal" fill="#000">100</text>
<text x="221.21" y="2250.05" font-size="58.7" font-weight="normal" fill="#000">120</text>
<text x="221.21" y="2161.1" font-size="58.7" font-weight="normal" fill="#000">140</text>
<text x="221.21" y="2072.15" font-size="58.7" font-weight="normal" fill="#000">160</text>
<text x="221.21" y="1983.2" font-size="58.7" font-weight="normal" fill="#000">180</text>
<text x="221.21" y="1894.25" font-size="58.7" font-weight="normal" fill="#000">200</text>
<text x="2091.15" y="2783.75" font-size="58.7" font-weight="normal" fill="#000">0</text>
<text x="2091.15" y="2684.92" font-size="58.7" font-weight="normal" fill="#000">300</text>
<text x="2090.57" y="2586.08" font-size="58.7" font-weight="normal" fill="#000">600</text>
<text x="2090.86" y="2487.25" font-size="58.7" font-weight="normal" fill="#000">900</text>
<text x="2089.1" y="2388.42" font-size="58.7" font-weight="normal" fill="#000">1200</text>
<text x="2089.1" y="2289.58" font-size="58.7" font-weight="normal" fill="#000">1500</text>
<text x="2089.1" y="2190.75" font-size="58.7" font-weight="normal" fill="#000">1800</text>
<text x="2090.57" y="2091.92" font-size="58.7" font-weight="normal" fill="#000">2100</text>
<text x="2090.57" y="1993.08" font-size="58.7" font-weight="normal" fill="#000">2400</text>
<text x="2090.57" y="1894.25" font-size="58.7" font-weight="normal" fill="#000">2700</text>
<text x="326.04" y="2858.5" font-size="58.7" font-weight="normal" fill="#000">-90</text>
<text x="604.48" y="2858.5" font-size="58.7" font-weight="normal" fill="#000">-60</text>
<text x="882.91" y="2858.5" font-size="58.7" font-weight="normal" fill="#000">-30</text>
<text x="1187.61" y="2858.5" font-size="58.7" font-weight="normal" fill="#000">0</text>
<text x="1449.75" y="2858.5" font-size="58.7" font-weight="normal" fill="#000">30</text>
<text x="1727.89" y="2858.5" font-size="58.7" font-weight="normal" fill="#000">60</text>
<text x="2006.47" y="2858.5" font-size="58.7" font-weight="normal" fill="#000">90</text>
</g>
<g font-family="Liberation Sans, sans-serif" fill="#000">
<text x="964.74" y="2949.4" font-size="65.4" font-weight="bold" fill="#000">Crank Angle [degree]</text>
<text transform="translate(144.2,2435.1) rotate(-90)" x="-415.21" y="0" font-size="64.8" font-weight="bold" fill="#000">Combustion pressure [bar]</text>
<text transform="translate(2345.9,2354.65) rotate(-90)" x="-307.57" y="0" font-size="65.06" font-weight="bold" fill="#000">Heat release [J/deg]</text>
</g>
<line x1="76.8" y1="1680.3" x2="244.8" y2="1680.3" fill="none" stroke="#000000" stroke-width="6.2" stroke-linejoin="round"/>
<line x1="76.8" y1="1766.7" x2="244.8" y2="1766.7" fill="none" stroke="#000000" stroke-width="6.2" stroke-linejoin="round"/>
<line x1="471" y1="1680.3" x2="639" y2="1680.3" fill="none" stroke="#1f5f9f" stroke-width="6.2" stroke-dasharray="24.8 18.6"/>
<line x1="471" y1="1766.7" x2="639" y2="1766.7" fill="none" stroke="#1c6fd1" stroke-width="6.2" stroke-dasharray="24.8 18.6"/>
<line x1="867.8" y1="1680.3" x2="1035.8" y2="1680.3" fill="none" stroke="#00b050" stroke-width="6.2" stroke-dasharray="24.8 18.6 6.2 18.6"/>
<line x1="867.8" y1="1766.7" x2="1035.8" y2="1766.7" fill="none" stroke="#00b050" stroke-width="6.2" stroke-dasharray="24.8 18.6 6.2 18.6"/>
<line x1="1263.2" y1="1680.3" x2="1431.2" y2="1680.3" fill="none" stroke="#7030a0" stroke-width="6.2" stroke-dasharray="49.6 18.6 6.2 18.6"/>
<line x1="1263.2" y1="1766.7" x2="1431.2" y2="1766.7" fill="none" stroke="#7030a0" stroke-width="6.2" stroke-dasharray="49.6 18.6 6.2 18.6"/>
<line x1="1659.3" y1="1680.3" x2="1827.3" y2="1680.3" fill="none" stroke="#ff0000" stroke-width="6.2" stroke-dasharray="49.6 18.6 6.2 18.6 6.2 18.6"/>
<line x1="1659.3" y1="1766.7" x2="1827.3" y2="1766.7" fill="none" stroke="#ff0000" stroke-width="6.2" stroke-dasharray="49.6 18.6 6.2 18.6 6.2 18.6"/>
<line x1="2056.7" y1="1680.3" x2="2219.7" y2="1680.3" fill="none" stroke="#00c070" stroke-width="6.2" stroke-linecap="round" stroke-dasharray="0.01 12.4"/>
<line x1="2056.7" y1="1766.7" x2="2219.7" y2="1766.7" fill="none" stroke="#00c070" stroke-width="6.2" stroke-linecap="round" stroke-dasharray="0.01 12.4"/>
<text x="258.47" y="1704.5" font-size="55" fill="#222" textLength="151.01" lengthAdjust="spacingAndGlyphs">Test_P</text>
<text x="258.47" y="1791" font-size="55" fill="#222" textLength="153.74" lengthAdjust="spacingAndGlyphs">Test_R</text>
<text x="656.31" y="1704.5" font-size="55" fill="#222" textLength="161.62" lengthAdjust="spacingAndGlyphs">Base_P</text>
<text x="656.31" y="1791" font-size="55" fill="#222" textLength="164.16" lengthAdjust="spacingAndGlyphs">Base_R</text>
<text x="1048.05" y="1704.5" font-size="55" fill="#222" textLength="177.9" lengthAdjust="spacingAndGlyphs">CR02_P</text>
<text x="1048.05" y="1791" font-size="55" fill="#222" textLength="180.5" lengthAdjust="spacingAndGlyphs">CR02_R</text>
<text x="1447.99" y="1704.5" font-size="55" fill="#222" textLength="174.62" lengthAdjust="spacingAndGlyphs">CR01_P</text>
<text x="1447.99" y="1791" font-size="55" fill="#222" textLength="177.16" lengthAdjust="spacingAndGlyphs">CR01_R</text>
<text x="1842.29" y="1704.5" font-size="55" fill="#222" textLength="174.51" lengthAdjust="spacingAndGlyphs">CR00_P</text>
<text x="1842.29" y="1791" font-size="55" fill="#222" textLength="177.06" lengthAdjust="spacingAndGlyphs">CR00_R</text>
<text x="2239.69" y="1704.5" font-size="55" fill="#222" textLength="174.82" lengthAdjust="spacingAndGlyphs">CR03_P</text>
<text x="2239.69" y="1791" font-size="55" fill="#222" textLength="177.37" lengthAdjust="spacingAndGlyphs">CR03_R</text>
<text x="1182.2" y="3126.9" font-family="Liberation Serif, serif" font-size="85" fill="#000">(<tspan font-weight="bold">d</tspan>)</text>
<line x1="324.5" y1="4359.8" x2="2077.5" y2="4359.8" stroke="#d9d9d9" stroke-width="2.69" stroke-dasharray="12.94 9.83"/>
<line x1="324.5" y1="4266.6" x2="2077.5" y2="4266.6" stroke="#d9d9d9" stroke-width="2.69" stroke-dasharray="12.94 9.83"/>
<line x1="324.5" y1="4173.4" x2="2077.5" y2="4173.4" stroke="#d9d9d9" stroke-width="2.69" stroke-dasharray="12.94 9.83"/>
<line x1="324.5" y1="4080.2" x2="2077.5" y2="4080.2" stroke="#d9d9d9" stroke-width="2.69" stroke-dasharray="12.94 9.83"/>
<line x1="324.5" y1="3987" x2="2077.5" y2="3987" stroke="#d9d9d9" stroke-width="2.69" stroke-dasharray="12.94 9.83"/>
<line x1="324.5" y1="3893.8" x2="2077.5" y2="3893.8" stroke="#d9d9d9" stroke-width="2.69" stroke-dasharray="12.94 9.83"/>
<line x1="324.5" y1="3800.6" x2="2077.5" y2="3800.6" stroke="#d9d9d9" stroke-width="2.69" stroke-dasharray="12.94 9.83"/>
<line x1="324.5" y1="3707.4" x2="2077.5" y2="3707.4" stroke="#d9d9d9" stroke-width="2.69" stroke-dasharray="12.94 9.83"/>
<line x1="324.5" y1="3614.2" x2="2077.5" y2="3614.2" stroke="#d9d9d9" stroke-width="2.69" stroke-dasharray="12.94 9.83"/>
<line x1="304.83" y1="4453" x2="324.5" y2="4453" stroke="#7f7f7f" stroke-width="4.14"/>
<line x1="304.83" y1="4359.8" x2="324.5" y2="4359.8" stroke="#7f7f7f" stroke-width="4.14"/>
<line x1="304.83" y1="4266.6" x2="324.5" y2="4266.6" stroke="#7f7f7f" stroke-width="4.14"/>
<line x1="304.83" y1="4173.4" x2="324.5" y2="4173.4" stroke="#7f7f7f" stroke-width="4.14"/>
<line x1="304.83" y1="4080.2" x2="324.5" y2="4080.2" stroke="#7f7f7f" stroke-width="4.14"/>
<line x1="304.83" y1="3987" x2="324.5" y2="3987" stroke="#7f7f7f" stroke-width="4.14"/>
<line x1="304.83" y1="3893.8" x2="324.5" y2="3893.8" stroke="#7f7f7f" stroke-width="4.14"/>
<line x1="304.83" y1="3800.6" x2="324.5" y2="3800.6" stroke="#7f7f7f" stroke-width="4.14"/>
<line x1="304.83" y1="3707.4" x2="324.5" y2="3707.4" stroke="#7f7f7f" stroke-width="4.14"/>
<line x1="304.83" y1="3614.2" x2="324.5" y2="3614.2" stroke="#7f7f7f" stroke-width="4.14"/>
<line x1="304.83" y1="3521" x2="324.5" y2="3521" stroke="#7f7f7f" stroke-width="4.14"/>
<line x1="2077.5" y1="4453" x2="2098.2" y2="4453" stroke="#7f7f7f" stroke-width="4.14"/>
<line x1="2066.11" y1="4432.29" x2="2077.5" y2="4432.29" stroke="#7f7f7f" stroke-width="3.31"/>
<line x1="2066.11" y1="4411.58" x2="2077.5" y2="4411.58" stroke="#7f7f7f" stroke-width="3.31"/>
<line x1="2066.11" y1="4390.87" x2="2077.5" y2="4390.87" stroke="#7f7f7f" stroke-width="3.31"/>
<line x1="2066.11" y1="4370.16" x2="2077.5" y2="4370.16" stroke="#7f7f7f" stroke-width="3.31"/>
<line x1="2077.5" y1="4349.44" x2="2098.2" y2="4349.44" stroke="#7f7f7f" stroke-width="4.14"/>
<line x1="2066.11" y1="4328.73" x2="2077.5" y2="4328.73" stroke="#7f7f7f" stroke-width="3.31"/>
<line x1="2066.11" y1="4308.02" x2="2077.5" y2="4308.02" stroke="#7f7f7f" stroke-width="3.31"/>
<line x1="2066.11" y1="4287.31" x2="2077.5" y2="4287.31" stroke="#7f7f7f" stroke-width="3.31"/>
<line x1="2066.11" y1="4266.6" x2="2077.5" y2="4266.6" stroke="#7f7f7f" stroke-width="3.31"/>
<line x1="2077.5" y1="4245.89" x2="2098.2" y2="4245.89" stroke="#7f7f7f" stroke-width="4.14"/>
<line x1="2066.11" y1="4225.18" x2="2077.5" y2="4225.18" stroke="#7f7f7f" stroke-width="3.31"/>
<line x1="2066.11" y1="4204.47" x2="2077.5" y2="4204.47" stroke="#7f7f7f" stroke-width="3.31"/>
<line x1="2066.11" y1="4183.76" x2="2077.5" y2="4183.76" stroke="#7f7f7f" stroke-width="3.31"/>
<line x1="2066.11" y1="4163.04" x2="2077.5" y2="4163.04" stroke="#7f7f7f" stroke-width="3.31"/>
<line x1="2077.5" y1="4142.33" x2="2098.2" y2="4142.33" stroke="#7f7f7f" stroke-width="4.14"/>
<line x1="2066.11" y1="4121.62" x2="2077.5" y2="4121.62" stroke="#7f7f7f" stroke-width="3.31"/>
<line x1="2066.11" y1="4100.91" x2="2077.5" y2="4100.91" stroke="#7f7f7f" stroke-width="3.31"/>
<line x1="2066.11" y1="4080.2" x2="2077.5" y2="4080.2" stroke="#7f7f7f" stroke-width="3.31"/>
<line x1="2066.11" y1="4059.49" x2="2077.5" y2="4059.49" stroke="#7f7f7f" stroke-width="3.31"/>
<line x1="2077.5" y1="4038.78" x2="2098.2" y2="4038.78" stroke="#7f7f7f" stroke-width="4.14"/>
<line x1="2066.11" y1="4018.07" x2="2077.5" y2="4018.07" stroke="#7f7f7f" stroke-width="3.31"/>
<line x1="2066.11" y1="3997.36" x2="2077.5" y2="3997.36" stroke="#7f7f7f" stroke-width="3.31"/>
<line x1="2066.11" y1="3976.64" x2="2077.5" y2="3976.64" stroke="#7f7f7f" stroke-width="3.31"/>
<line x1="2066.11" y1="3955.93" x2="2077.5" y2="3955.93" stroke="#7f7f7f" stroke-width="3.31"/>
<line x1="2077.5" y1="3935.22" x2="2098.2" y2="3935.22" stroke="#7f7f7f" stroke-width="4.14"/>
<line x1="2066.11" y1="3914.51" x2="2077.5" y2="3914.51" stroke="#7f7f7f" stroke-width="3.31"/>
<line x1="2066.11" y1="3893.8" x2="2077.5" y2="3893.8" stroke="#7f7f7f" stroke-width="3.31"/>
<line x1="2066.11" y1="3873.09" x2="2077.5" y2="3873.09" stroke="#7f7f7f" stroke-width="3.31"/>
<line x1="2066.11" y1="3852.38" x2="2077.5" y2="3852.38" stroke="#7f7f7f" stroke-width="3.31"/>
<line x1="2077.5" y1="3831.67" x2="2098.2" y2="3831.67" stroke="#7f7f7f" stroke-width="4.14"/>
<line x1="2066.11" y1="3810.96" x2="2077.5" y2="3810.96" stroke="#7f7f7f" stroke-width="3.31"/>
<line x1="2066.11" y1="3790.24" x2="2077.5" y2="3790.24" stroke="#7f7f7f" stroke-width="3.31"/>
<line x1="2066.11" y1="3769.53" x2="2077.5" y2="3769.53" stroke="#7f7f7f" stroke-width="3.31"/>
<line x1="2066.11" y1="3748.82" x2="2077.5" y2="3748.82" stroke="#7f7f7f" stroke-width="3.31"/>
<line x1="2077.5" y1="3728.11" x2="2098.2" y2="3728.11" stroke="#7f7f7f" stroke-width="4.14"/>
<line x1="2066.11" y1="3707.4" x2="2077.5" y2="3707.4" stroke="#7f7f7f" stroke-width="3.31"/>
<line x1="2066.11" y1="3686.69" x2="2077.5" y2="3686.69" stroke="#7f7f7f" stroke-width="3.31"/>
<line x1="2066.11" y1="3665.98" x2="2077.5" y2="3665.98" stroke="#7f7f7f" stroke-width="3.31"/>
<line x1="2066.11" y1="3645.27" x2="2077.5" y2="3645.27" stroke="#7f7f7f" stroke-width="3.31"/>
<line x1="2077.5" y1="3624.56" x2="2098.2" y2="3624.56" stroke="#7f7f7f" stroke-width="4.14"/>
<line x1="2066.11" y1="3603.84" x2="2077.5" y2="3603.84" stroke="#7f7f7f" stroke-width="3.31"/>
<line x1="2066.11" y1="3583.13" x2="2077.5" y2="3583.13" stroke="#7f7f7f" stroke-width="3.31"/>
<line x1="2066.11" y1="3562.42" x2="2077.5" y2="3562.42" stroke="#7f7f7f" stroke-width="3.31"/>
<line x1="2066.11" y1="3541.71" x2="2077.5" y2="3541.71" stroke="#7f7f7f" stroke-width="3.31"/>
<line x1="2077.5" y1="3521" x2="2098.2" y2="3521" stroke="#7f7f7f" stroke-width="4.14"/>
<line x1="324.5" y1="4453" x2="324.5" y2="4472.15" stroke="#7f7f7f" stroke-width="4.14"/>
<line x1="421.89" y1="4439.55" x2="421.89" y2="4453" stroke="#7f7f7f" stroke-width="3.31"/>
<line x1="519.28" y1="4439.55" x2="519.28" y2="4453" stroke="#7f7f7f" stroke-width="3.31"/>
<line x1="616.67" y1="4453" x2="616.67" y2="4472.15" stroke="#7f7f7f" stroke-width="4.14"/>
<line x1="714.06" y1="4439.55" x2="714.06" y2="4453" stroke="#7f7f7f" stroke-width="3.31"/>
<line x1="811.44" y1="4439.55" x2="811.44" y2="4453" stroke="#7f7f7f" stroke-width="3.31"/>
<line x1="908.83" y1="4453" x2="908.83" y2="4472.15" stroke="#7f7f7f" stroke-width="4.14"/>
<line x1="1006.22" y1="4439.55" x2="1006.22" y2="4453" stroke="#7f7f7f" stroke-width="3.31"/>
<line x1="1103.61" y1="4439.55" x2="1103.61" y2="4453" stroke="#7f7f7f" stroke-width="3.31"/>
<line x1="1201" y1="4453" x2="1201" y2="4472.15" stroke="#7f7f7f" stroke-width="4.14"/>
<line x1="1298.39" y1="4439.55" x2="1298.39" y2="4453" stroke="#7f7f7f" stroke-width="3.31"/>
<line x1="1395.78" y1="4439.55" x2="1395.78" y2="4453" stroke="#7f7f7f" stroke-width="3.31"/>
<line x1="1493.17" y1="4453" x2="1493.17" y2="4472.15" stroke="#7f7f7f" stroke-width="4.14"/>
<line x1="1590.56" y1="4439.55" x2="1590.56" y2="4453" stroke="#7f7f7f" stroke-width="3.31"/>
<line x1="1687.94" y1="4439.55" x2="1687.94" y2="4453" stroke="#7f7f7f" stroke-width="3.31"/>
<line x1="1785.33" y1="4453" x2="1785.33" y2="4472.15" stroke="#7f7f7f" stroke-width="4.14"/>
<line x1="1882.72" y1="4439.55" x2="1882.72" y2="4453" stroke="#7f7f7f" stroke-width="3.31"/>
<line x1="1980.11" y1="4439.55" x2="1980.11" y2="4453" stroke="#7f7f7f" stroke-width="3.31"/>
<line x1="2077.5" y1="4453" x2="2077.5" y2="4472.15" stroke="#7f7f7f" stroke-width="4.14"/>
<rect x="324.5" y="3519.45" width="1753" height="933.55" fill="none" stroke="#7f7f7f" stroke-width="4.14"/>
<defs><clipPath id="clipe"><rect x="320.5" y="3517" width="1761.0" height="944"/></clipPath></defs>
<g clip-path="url(#clipe)" fill="none" stroke-linejoin="round">
<path d="M324.5,4440.0L535.8,4432.2L598.6,4428.3L655.6,4423.1L713.6,4415.8L766.6,4406.7L791.5,4401.4L814.9,4395.7L837.3,4389.6L858.7,4382.9L890.3,4371.5L920.5,4358.5L949.2,4343.9L977.0,4327.6L998.4,4313.3L1019.9,4297.6L1043.7,4278.7L1100.2,4231.9L1117.2,4219.2L1128.4,4212.2L1142.6,4206.2L1155.2,4199.5L1165.5,4194.8L1185.4,4189.1L1192.2,4188.0L1198.6,4187.9L1214.1,4188.9L1228.3,4190.5L1232.7,4190.3L1234.6,4186.8L1238.0,4177.1L1243.4,4155.5L1245.8,4150.7L1248.7,4147.1L1254.1,4144.6L1266.7,4143.1L1269.7,4141.1L1279.9,4131.4L1306.7,4115.9L1315.9,4111.8L1326.6,4110.0L1331.0,4111.4L1343.2,4119.0L1361.7,4133.8L1374.4,4144.8L1410.9,4178.4L1434.7,4206.2L1460.1,4232.2L1482.9,4253.0L1506.8,4272.3L1536.5,4293.4L1567.7,4312.6L1600.8,4330.1L1635.8,4346.0L1656.8,4354.3L1678.7,4362.2L1701.6,4369.6L1725.0,4376.5L1774.6,4388.9L1827.7,4399.3L1885.6,4408.1L1947.0,4414.9L2011.8,4419.8L2077.5,4422.6" stroke="#000000" stroke-width="6.42" stroke-linejoin="round"/>
<path d="M324.5,4439.8L483.7,4434.3L537.3,4431.9L600.6,4427.9L658.1,4422.5L716.5,4415.0L770.1,4405.5L794.9,4400.1L818.3,4394.3L841.1,4387.8L862.6,4380.9L890.8,4370.5L917.6,4358.9L943.4,4346.0L968.2,4331.8L993.6,4315.3L1019.4,4296.5L1044.2,4276.6L1096.8,4232.5L1121.6,4213.9L1129.4,4209.3L1142.1,4204.0L1155.2,4197.0L1166.4,4191.9L1186.4,4185.5L1204.4,4181.8L1217.1,4176.3L1223.9,4171.7L1231.7,4165.0L1251.6,4140.5L1257.0,4135.5L1264.8,4129.3L1286.7,4114.7L1295.5,4109.5L1311.5,4102.5L1316.4,4101.2L1320.8,4100.7L1326.6,4101.4L1333.0,4103.5L1342.7,4108.1L1347.1,4111.4L1375.3,4142.1L1411.8,4177.0L1430.8,4199.6L1452.8,4222.7L1477.6,4246.0L1503.9,4267.7L1533.6,4289.2L1564.7,4308.6L1597.9,4326.3L1632.9,4342.4L1654.3,4351.0L1676.3,4359.0L1699.1,4366.5L1722.5,4373.5L1772.2,4386.0L1825.7,4396.7L1883.7,4405.5L1945.5,4412.5L2010.8,4417.5L2077.5,4420.3" stroke="#1c6fd1" stroke-width="6.42" stroke-dasharray="25.67 19.25"/>
<path d="M324.5,4439.4L368.3,4437.1L480.8,4433.1L537.3,4430.4L598.2,4425.9L653.7,4420.0L683.9,4415.9L713.1,4411.1L740.8,4405.9L767.6,4400.2L793.4,4393.8L817.8,4387.0L841.1,4379.5L863.1,4371.7L891.3,4360.1L918.1,4347.3L943.9,4333.1L968.2,4317.6L995.5,4297.7L1023.3,4274.6L1049.1,4250.8L1100.7,4200.4L1113.3,4189.0L1123.1,4181.0L1130.4,4176.3L1153.8,4163.6L1167.4,4157.1L1184.4,4151.3L1202.0,4148.2L1207.8,4145.6L1221.0,4135.5L1230.2,4126.9L1237.5,4118.9L1253.6,4099.3L1264.8,4087.7L1272.1,4081.3L1284.8,4072.9L1297.4,4066.8L1305.7,4064.4L1317.9,4063.0L1323.7,4064.1L1332.5,4067.8L1340.3,4072.8L1345.6,4077.5L1351.0,4084.0L1361.2,4098.1L1389.0,4140.0L1401.1,4155.9L1450.3,4209.5L1468.3,4227.5L1486.3,4244.2L1501.9,4257.6L1518.0,4270.5L1534.6,4282.8L1551.1,4294.2L1568.2,4305.1L1585.7,4315.3L1603.2,4324.8L1621.7,4333.9L1642.7,4343.3L1664.6,4352.2L1687.5,4360.5L1710.8,4368.2L1735.2,4375.3L1761.0,4382.1L1787.8,4388.3L1815.5,4394.0L1875.9,4404.1L1940.7,4412.1L2008.8,4418.0L2077.5,4421.3" stroke="#00b050" stroke-width="6.42" stroke-dasharray="25.67 19.25 6.42 19.25"/>
<path d="M324.5,4439.5L374.2,4437.2L488.1,4433.3L537.3,4431.0L598.6,4426.7L655.1,4420.9L714.1,4412.6L741.8,4407.6L768.6,4402.1L793.9,4396.2L818.3,4389.6L841.1,4382.7L863.1,4375.1L891.3,4364.0L918.1,4351.7L943.4,4338.2L968.2,4323.0L995.0,4304.3L1021.8,4283.1L1047.1,4261.0L1099.2,4213.0L1112.4,4201.7L1122.6,4193.8L1130.9,4188.8L1142.6,4183.2L1156.2,4175.7L1166.9,4170.8L1184.9,4164.9L1202.5,4161.6L1209.8,4158.3L1221.0,4150.5L1230.7,4141.9L1237.0,4134.9L1253.1,4115.0L1262.8,4105.5L1271.1,4098.6L1285.2,4089.2L1296.4,4083.3L1308.1,4079.3L1318.8,4077.5L1324.7,4078.5L1332.5,4081.4L1341.2,4086.5L1346.1,4090.5L1361.2,4109.0L1388.0,4144.6L1400.6,4159.6L1414.8,4174.3L1433.8,4196.0L1452.3,4215.6L1472.7,4235.5L1493.2,4253.7L1523.8,4277.9L1556.0,4299.7L1589.6,4319.3L1625.6,4337.1L1647.0,4346.3L1669.0,4354.8L1691.8,4362.9L1715.2,4370.2L1739.6,4377.1L1765.4,4383.6L1819.4,4395.0L1878.8,4404.6L1942.6,4412.3L2009.8,4417.8L2077.5,4420.9" stroke="#7030a0" stroke-width="6.42" stroke-dasharray="51.34 19.25 6.42 19.25"/>
<path d="M324.5,4439.8L484.7,4434.2L539.2,4431.8L603.5,4427.6L661.5,4422.1L720.9,4414.1L774.4,4404.4L799.3,4398.8L823.1,4392.7L846.0,4386.0L867.9,4378.8L898.1,4367.2L926.9,4354.2L954.1,4339.7L980.9,4323.3L1001.4,4309.3L1022.8,4293.2L1045.7,4274.7L1098.7,4230.0L1113.8,4218.4L1125.5,4210.5L1131.4,4207.4L1142.6,4202.7L1155.2,4195.9L1166.4,4190.8L1186.4,4184.4L1201.0,4181.7L1211.2,4176.4L1220.5,4169.5L1230.7,4159.2L1236.5,4151.8L1252.1,4129.6L1259.4,4121.4L1263.8,4117.7L1277.5,4108.1L1294.0,4098.2L1309.1,4092.0L1314.5,4090.6L1319.3,4089.9L1325.2,4090.6L1332.5,4093.1L1342.2,4098.2L1346.6,4101.6L1382.6,4143.9L1399.7,4162.2L1413.8,4176.4L1429.4,4194.7L1444.5,4211.1L1471.3,4237.4L1499.5,4261.8L1529.2,4284.1L1560.9,4304.7L1594.0,4323.1L1629.5,4340.0L1650.9,4348.9L1672.8,4357.1L1695.7,4364.9L1719.1,4372.0L1743.9,4378.8L1769.3,4385.0L1822.8,4395.9L1881.7,4405.2L1944.6,4412.4L2010.8,4417.6L2077.5,4420.6" stroke="#ff0000" stroke-width="6.42" stroke-dasharray="51.34 19.25 6.42 19.25 6.42 19.25"/>
<path d="M324.5,4439.1L370.8,4436.5L481.3,4432.4L536.3,4429.6L595.2,4425.0L649.3,4418.9L679.5,4414.5L708.2,4409.6L736.5,4404.0L763.2,4397.9L789.0,4391.3L813.9,4384.0L837.7,4376.2L860.1,4367.9L893.7,4353.4L925.4,4337.1L955.1,4319.0L983.3,4298.7L1006.2,4279.9L1029.1,4259.0L1052.5,4235.7L1102.6,4183.2L1117.2,4169.3L1126.0,4162.1L1154.3,4145.6L1170.3,4138.1L1182.5,4133.9L1200.5,4131.0L1206.4,4128.8L1212.7,4124.1L1230.2,4108.4L1238.0,4100.4L1261.9,4073.3L1272.1,4063.9L1283.8,4056.7L1296.4,4051.6L1304.7,4049.6L1316.4,4049.0L1322.2,4049.9L1332.0,4054.4L1339.3,4059.3L1345.1,4064.8L1351.0,4072.4L1361.2,4087.7L1389.9,4136.0L1401.1,4151.8L1448.4,4203.5L1480.0,4235.0L1496.6,4249.9L1513.1,4263.8L1529.7,4276.7L1546.7,4288.9L1564.3,4300.6L1581.8,4311.3L1599.8,4321.4L1618.8,4331.1L1639.7,4340.9L1661.6,4350.1L1684.0,4358.5L1707.4,4366.4L1731.8,4373.8L1757.6,4380.7L1784.4,4387.1L1812.6,4393.1L1842.8,4398.6L1874.0,4403.7L1939.7,4412.1L2008.8,4418.2L2077.5,4421.7" stroke="#00c070" stroke-width="6.42" stroke-linecap="round" stroke-dasharray="0.01 12.83"/>
<path d="M324.5,4453.0L1220.5,4453.0L1221.5,4452.2L1222.9,4448.3L1225.8,4435.0L1228.8,4407.0L1232.2,4357.4L1238.5,4229.5L1240.4,4205.7L1241.9,4197.2L1242.9,4200.1L1243.9,4207.6L1246.3,4235.1L1250.7,4313.5L1255.5,4349.5L1259.4,4385.5L1260.9,4394.1L1261.9,4396.0L1263.3,4389.7L1267.2,4348.4L1270.1,4329.3L1272.1,4320.2L1273.1,4318.4L1274.0,4319.5L1277.9,4336.7L1280.4,4338.2L1283.8,4338.6L1285.7,4331.9L1290.6,4299.0L1291.6,4294.9L1292.5,4293.2L1293.5,4294.1L1294.5,4297.1L1297.9,4313.0L1302.3,4329.3L1302.8,4329.8L1303.7,4328.8L1307.6,4314.0L1308.6,4311.8L1309.6,4311.8L1317.4,4341.1L1318.8,4345.5L1320.3,4347.9L1321.3,4347.8L1322.7,4344.3L1328.1,4320.6L1329.1,4318.6L1330.0,4318.8L1332.0,4326.6L1336.9,4362.6L1338.8,4370.5L1339.3,4370.8L1340.3,4370.3L1341.7,4367.9L1348.1,4350.0L1349.5,4348.2L1350.5,4348.5L1352.0,4354.4L1356.3,4388.7L1358.3,4397.7L1358.8,4398.1L1359.3,4397.8L1360.2,4395.8L1365.6,4370.4L1366.6,4367.4L1367.5,4366.4L1368.5,4367.7L1370.0,4373.9L1374.4,4404.0L1376.8,4414.0L1377.8,4414.1L1378.7,4412.1L1384.1,4388.4L1385.6,4384.9L1386.5,4385.0L1388.5,4391.4L1393.8,4423.3L1395.3,4427.5L1396.3,4427.6L1398.2,4422.5L1403.6,4397.2L1404.5,4394.6L1405.5,4393.6L1406.5,4394.8L1408.0,4400.0L1413.3,4430.4L1414.3,4433.6L1415.3,4434.7L1416.2,4433.7L1417.2,4430.9L1422.6,4403.8L1424.0,4399.1L1425.0,4398.1L1426.0,4399.5L1426.9,4403.3L1431.3,4431.4L1432.8,4437.8L1433.8,4439.2L1435.7,4437.5L1437.7,4432.2L1441.1,4411.0L1442.5,4406.8L1444.0,4409.5L1445.0,4413.2L1450.3,4444.0L1451.8,4448.3L1452.8,4449.0L1453.7,4447.8L1455.2,4442.9L1460.5,4413.9L1461.5,4411.0L1462.5,4409.9L1463.5,4410.6L1464.9,4414.8L1470.3,4443.9L1471.7,4448.4L1472.7,4449.4L1473.7,4448.6L1475.1,4444.5L1480.5,4416.9L1482.0,4413.1L1482.9,4412.5L1483.9,4413.6L1484.9,4416.3L1490.2,4443.8L1491.7,4448.5L1492.7,4449.7L1493.7,4449.3L1495.1,4445.8L1500.5,4419.8L1501.9,4415.7L1502.9,4414.9L1503.9,4415.6L1505.3,4419.6L1510.7,4445.5L1512.2,4449.4L1513.1,4450.1L1514.1,4449.2L1515.6,4445.3L1520.4,4422.5L1521.9,4418.3L1522.9,4417.2L1523.8,4417.6L1525.3,4420.9L1530.7,4445.4L1532.1,4449.4L1533.1,4450.4L1534.1,4449.9L1535.5,4446.5L1540.9,4423.3L1542.3,4419.9L1543.3,4419.3L1544.3,4420.1L1545.8,4423.8L1551.1,4446.9L1552.6,4450.1L1553.5,4450.6L1554.5,4449.7L1556.0,4446.0L1561.3,4424.2L1563.3,4421.3L1564.3,4421.8L1565.7,4424.9L1571.1,4446.7L1572.5,4450.1L1573.5,4450.9L1574.5,4450.3L1575.9,4447.1L1581.3,4426.5L1582.8,4423.6L1583.7,4423.1L1585.7,4426.0L1591.0,4446.6L1592.5,4450.1L1593.5,4451.0L1594.5,4450.7L1595.9,4448.1L1601.3,4428.6L1602.7,4425.5L1603.7,4424.9L1604.7,4425.4L1606.1,4428.4L1611.5,4447.8L1613.0,4450.7L1613.9,4451.3L1614.9,4450.6L1616.4,4447.7L1621.2,4430.6L1622.7,4427.4L1623.7,4426.6L1624.6,4426.9L1626.1,4429.3L1631.5,4447.7L1632.9,4450.7L1633.9,4451.4L1634.9,4451.0L1636.3,4448.5L1641.7,4431.1L1643.1,4428.5L1644.1,4428.1L1645.1,4428.7L1646.6,4431.4L1651.9,4448.8L1653.4,4451.2L1654.3,4451.6L1655.3,4450.9L1656.8,4448.1L1662.1,4431.8L1664.1,4429.5L1665.1,4429.9L1666.5,4432.3L1671.9,4448.6L1673.3,4451.2L1674.3,4451.7L1675.3,4451.3L1676.7,4448.9L1682.1,4433.4L1683.6,4431.2L1684.5,4430.9L1686.5,4433.1L1691.8,4448.5L1693.3,4451.1L1694.3,4451.8L1695.2,4451.6L1696.7,4449.6L1702.1,4435.0L1703.5,4432.7L1704.5,4432.2L1705.5,4432.6L1706.9,4434.8L1712.3,4449.4L1713.8,4451.6L1714.7,4452.0L1715.7,4451.5L1717.2,4449.3L1722.0,4436.4L1723.5,4434.0L1724.5,4433.4L1725.4,4433.6L1726.9,4435.5L1732.3,4449.3L1733.7,4451.5L1734.7,4452.1L1735.7,4451.8L1737.1,4449.9L1742.5,4436.8L1743.9,4434.9L1744.9,4434.5L1745.9,4435.0L1747.4,4437.1L1752.7,4450.1L1754.2,4451.9L1755.1,4452.2L1756.1,4451.7L1757.6,4449.6L1762.9,4437.3L1764.9,4435.6L1765.9,4435.9L1767.3,4437.6L1772.7,4449.9L1774.1,4451.8L1775.1,4452.2L1776.1,4451.9L1777.5,4450.1L1782.9,4438.5L1784.4,4436.9L1785.3,4436.6L1787.3,4438.2L1792.6,4449.8L1795.1,4452.3L1796.0,4452.1L1797.5,4450.6L1802.9,4439.6L1804.3,4437.9L1805.3,4437.6L1806.3,4437.9L1807.7,4439.5L1813.1,4450.5L1814.5,4452.1L1815.5,4452.4L1818.0,4450.4L1822.8,4440.7L1825.3,4438.5L1826.2,4438.6L1827.7,4440.0L1833.1,4450.3L1835.5,4452.4L1836.5,4452.2L1837.9,4450.8L1843.3,4441.0L1845.7,4439.3L1848.1,4441.2L1853.5,4450.9L1855.0,4452.3L1855.9,4452.5L1858.4,4450.6L1863.7,4441.3L1865.7,4440.1L1868.1,4441.6L1873.5,4450.8L1875.9,4452.5L1878.3,4451.0L1883.7,4442.2L1886.1,4440.8L1888.1,4442.0L1893.4,4450.7L1895.9,4452.6L1898.3,4451.3L1903.7,4443.1L1906.1,4441.5L1908.5,4443.0L1913.9,4451.2L1916.3,4452.6L1918.8,4451.1L1923.6,4443.9L1926.1,4442.2L1928.5,4443.4L1933.9,4451.1L1936.3,4452.7L1938.7,4451.4L1944.1,4444.1L1946.5,4442.8L1948.9,4444.2L1953.8,4451.0L1956.3,4452.7L1958.7,4451.7L1964.0,4444.8L1966.5,4443.4L1968.9,4444.5L1974.3,4451.4L1976.7,4452.7L1979.1,4451.5L1984.5,4445.0L1986.9,4443.9L1988.9,4444.8L1994.2,4451.3L1996.7,4452.7L1999.1,4451.8L2004.5,4445.6L2006.9,4444.4L2009.3,4445.6L2014.2,4451.2L2016.6,4452.7L2019.1,4452.0L2024.4,4446.2L2026.9,4444.9L2029.3,4445.8L2034.2,4451.2L2036.6,4452.7L2039.0,4452.2L2044.9,4446.4L2047.3,4445.4L2049.7,4446.5L2054.6,4451.5L2056.6,4452.7L2058.0,4452.8L2059.5,4452.1L2064.8,4446.9L2067.3,4445.8L2069.7,4446.7L2075.1,4451.9L2077.5,4452.8" stroke="#000000" stroke-width="6.42" stroke-linejoin="round"/>
<path d="M324.5,4453.0L1191.3,4453.0L1200.0,4438.5L1202.0,4433.5L1202.9,4429.1L1207.3,4397.3L1212.2,4349.7L1216.6,4323.6L1220.0,4296.0L1222.9,4284.3L1224.4,4281.0L1226.3,4278.2L1232.7,4273.0L1246.3,4258.0L1255.5,4248.7L1258.5,4246.4L1262.8,4244.2L1266.3,4242.9L1269.2,4242.4L1272.1,4242.8L1275.5,4244.1L1284.3,4249.7L1287.7,4253.6L1292.1,4260.5L1296.4,4269.8L1301.3,4282.9L1313.5,4324.6L1319.3,4339.8L1328.6,4355.9L1355.4,4393.3L1362.7,4401.2L1370.0,4408.0L1376.3,4413.0L1382.6,4417.0L1391.4,4421.4L1403.1,4426.2L1426.9,4434.0L1456.2,4440.5L1481.5,4444.2L1524.3,4448.0L1572.5,4449.9L1634.4,4451.2L1745.4,4452.3L2077.5,4453.0" stroke="#1c6fd1" stroke-width="6.42" stroke-dasharray="25.67 19.25"/>
<path d="M324.5,4453.0L1191.3,4453.0L1200.0,4438.5L1202.0,4433.5L1202.9,4429.1L1207.3,4397.3L1212.7,4346.1L1215.6,4328.4L1219.0,4316.0L1222.4,4309.1L1229.7,4301.1L1232.7,4296.8L1240.4,4274.9L1243.9,4267.0L1250.7,4253.2L1260.9,4234.8L1265.3,4228.3L1271.6,4221.3L1275.0,4218.5L1277.9,4217.6L1279.4,4218.0L1281.3,4219.7L1289.1,4230.3L1294.0,4238.7L1298.9,4249.1L1308.1,4275.7L1321.3,4325.1L1326.6,4342.9L1334.9,4362.7L1344.2,4378.6L1351.0,4388.1L1358.8,4397.1L1368.0,4406.3L1376.3,4413.0L1384.1,4417.8L1393.3,4422.3L1407.5,4427.9L1421.1,4432.3L1450.3,4439.3L1477.1,4443.7L1519.9,4447.7L1565.2,4449.7L1630.0,4451.1L1740.5,4452.3L2077.5,4453.0" stroke="#00b050" stroke-width="6.42" stroke-dasharray="25.67 19.25 6.42 19.25"/>
<path d="M324.5,4453.0L1191.3,4453.0L1200.0,4438.5L1202.0,4433.5L1202.9,4429.1L1207.3,4397.3L1212.7,4346.1L1215.6,4328.4L1219.0,4316.0L1222.4,4309.1L1229.7,4301.1L1232.7,4296.8L1240.4,4274.9L1243.9,4267.0L1250.7,4253.2L1260.9,4234.8L1265.3,4228.3L1271.6,4221.3L1275.0,4218.5L1277.9,4217.6L1279.4,4218.0L1281.3,4219.7L1289.1,4230.3L1294.0,4238.7L1298.9,4249.1L1308.1,4275.7L1321.3,4325.1L1326.6,4342.9L1334.9,4362.7L1344.2,4378.6L1351.0,4388.1L1358.8,4397.1L1368.0,4406.3L1376.3,4413.0L1384.1,4417.8L1393.3,4422.3L1407.5,4427.9L1421.1,4432.3L1450.3,4439.3L1477.1,4443.7L1519.9,4447.7L1565.2,4449.7L1630.0,4451.1L1740.5,4452.3L2077.5,4453.0" stroke="#7030a0" stroke-width="6.42" stroke-dasharray="51.34 19.25 6.42 19.25"/>
<path d="M324.5,4453.0L1191.3,4453.0L1200.0,4438.5L1202.0,4433.5L1202.9,4429.1L1207.3,4397.3L1212.7,4346.1L1215.6,4328.4L1219.0,4316.0L1222.4,4309.1L1229.7,4301.1L1232.7,4296.8L1240.4,4274.9L1243.9,4267.0L1250.7,4253.2L1260.9,4234.8L1265.3,4228.3L1271.6,4221.3L1275.0,4218.5L1277.9,4217.6L1279.4,4218.0L1281.3,4219.7L1289.1,4230.3L1294.0,4238.7L1298.9,4249.1L1308.1,4275.7L1321.3,4325.1L1326.6,4342.9L1334.9,4362.7L1344.2,4378.6L1351.0,4388.1L1358.8,4397.1L1368.0,4406.3L1376.3,4413.0L1384.1,4417.8L1393.3,4422.3L1407.5,4427.9L1421.1,4432.3L1450.3,4439.3L1477.1,4443.7L1519.9,4447.7L1565.2,4449.7L1630.0,4451.1L1740.5,4452.3L2077.5,4453.0" stroke="#ff0000" stroke-width="6.42" stroke-dasharray="51.34 19.25 6.42 19.25 6.42 19.25"/>
<path d="M324.5,4453.0L1191.3,4453.0L1200.0,4438.5L1202.0,4433.5L1202.9,4429.1L1207.3,4397.3L1212.7,4346.1L1215.6,4328.4L1219.0,4316.0L1222.4,4309.1L1229.7,4301.1L1232.7,4296.8L1240.4,4274.9L1243.9,4267.0L1250.7,4253.2L1260.9,4234.8L1265.3,4228.3L1271.6,4221.3L1275.0,4218.5L1277.9,4217.6L1279.4,4218.0L1281.3,4219.7L1289.1,4230.3L1294.0,4238.7L1298.9,4249.1L1308.1,4275.7L1321.3,4325.1L1326.6,4342.9L1334.9,4362.7L1344.2,4378.6L1351.0,4388.1L1358.8,4397.1L1368.0,4406.3L1376.3,4413.0L1384.1,4417.8L1393.3,4422.3L1407.5,4427.9L1421.1,4432.3L1450.3,4439.3L1477.1,4443.7L1519.9,4447.7L1565.2,4449.7L1630.0,4451.1L1740.5,4452.3L2077.5,4453.0" stroke="#00c070" stroke-width="6.42" stroke-linecap="round" stroke-dasharray="0.01 12.83"/>
</g>
<g font-family="Liberation Sans, sans-serif" font-size="61" fill="#000">
<text x="239.19" y="4474.05" font-size="61" font-weight="normal" fill="#000">0</text>
<text x="205.33" y="4380.85" font-size="61" font-weight="normal" fill="#000">20</text>
<text x="205.33" y="4287.65" font-size="61" font-weight="normal" fill="#000">40</text>
<text x="205.33" y="4194.44" font-size="61" font-weight="normal" fill="#000">60</text>
<text x="205.33" y="4101.24" font-size="61" font-weight="normal" fill="#000">80</text>
<text x="171.48" y="4008.05" font-size="61" font-weight="normal" fill="#000">100</text>
<text x="171.48" y="3914.85" font-size="61" font-weight="normal" fill="#000">120</text>
<text x="171.48" y="3821.64" font-size="61" font-weight="normal" fill="#000">140</text>
<text x="171.48" y="3728.45" font-size="61" font-weight="normal" fill="#000">160</text>
<text x="171.48" y="3635.24" font-size="61" font-weight="normal" fill="#000">180</text>
<text x="171.48" y="3542.05" font-size="61" font-weight="normal" fill="#000">200</text>
<text x="2131.36" y="4474.05" font-size="61" font-weight="normal" fill="#000">0</text>
<text x="2131.36" y="4370.49" font-size="61" font-weight="normal" fill="#000">300</text>
<text x="2130.75" y="4266.93" font-size="61" font-weight="normal" fill="#000">600</text>
<text x="2131.06" y="4163.38" font-size="61" font-weight="normal" fill="#000">900</text>
<text x="2129.23" y="4059.82" font-size="61" font-weight="normal" fill="#000">1200</text>
<text x="2129.23" y="3956.27" font-size="61" font-weight="normal" fill="#000">1500</text>
<text x="2129.23" y="3852.71" font-size="61" font-weight="normal" fill="#000">1800</text>
<text x="2130.75" y="3749.16" font-size="61" font-weight="normal" fill="#000">2100</text>
<text x="2130.75" y="3645.6" font-size="61" font-weight="normal" fill="#000">2400</text>
<text x="2130.75" y="3542.05" font-size="61" font-weight="normal" fill="#000">2700</text>
<text x="280.27" y="4554.2" font-size="61" font-weight="normal" fill="#000">-90</text>
<text x="572.44" y="4554.2" font-size="61" font-weight="normal" fill="#000">-60</text>
<text x="864.61" y="4554.2" font-size="61" font-weight="normal" fill="#000">-30</text>
<text x="1184.07" y="4554.2" font-size="61" font-weight="normal" fill="#000">0</text>
<text x="1459.31" y="4554.2" font-size="61" font-weight="normal" fill="#000">30</text>
<text x="1751.17" y="4554.2" font-size="61" font-weight="normal" fill="#000">60</text>
<text x="2043.49" y="4554.2" font-size="61" font-weight="normal" fill="#000">90</text>
</g>
<g font-family="Liberation Sans, sans-serif" fill="#000">
<text x="947.05" y="4643.2" font-size="68.3" font-weight="bold" fill="#000">Crank Angle [degree]</text>
<text transform="translate(86.3,4108.25) rotate(-90)" x="-432.95" y="0" font-size="67.57" font-weight="bold" fill="#000">Combustion pressure [bar]</text>
<text transform="translate(2397.6,4023.4) rotate(-90)" x="-321.47" y="0" font-size="68" font-weight="bold" fill="#000">Heat release [J/deg]</text>
</g>
<line x1="22.8" y1="3320" x2="196.8" y2="3320" fill="none" stroke="#000000" stroke-width="6.42" stroke-linejoin="round"/>
<line x1="22.8" y1="3416.7" x2="196.8" y2="3416.7" fill="none" stroke="#000000" stroke-width="6.42" stroke-linejoin="round"/>
<line x1="435.5" y1="3320" x2="609.5" y2="3320" fill="none" stroke="#1c6fd1" stroke-width="6.42" stroke-dasharray="25.67 19.25"/>
<line x1="435.5" y1="3416.7" x2="609.5" y2="3416.7" fill="none" stroke="#1c6fd1" stroke-width="6.42" stroke-dasharray="25.67 19.25"/>
<line x1="848.2" y1="3320" x2="1022.2" y2="3320" fill="none" stroke="#00b050" stroke-width="6.42" stroke-dasharray="25.67 19.25 6.42 19.25"/>
<line x1="848.2" y1="3416.7" x2="1022.2" y2="3416.7" fill="none" stroke="#00b050" stroke-width="6.42" stroke-dasharray="25.67 19.25 6.42 19.25"/>
<line x1="1266.5" y1="3320" x2="1440.5" y2="3320" fill="none" stroke="#7030a0" stroke-width="6.42" stroke-dasharray="51.34 19.25 6.42 19.25"/>
<line x1="1266.5" y1="3416.7" x2="1440.5" y2="3416.7" fill="none" stroke="#7030a0" stroke-width="6.42" stroke-dasharray="51.34 19.25 6.42 19.25"/>
<line x1="1683.1" y1="3320" x2="1857.1" y2="3320" fill="none" stroke="#ff0000" stroke-width="6.42" stroke-dasharray="51.34 19.25 6.42 19.25 6.42 19.25"/>
<line x1="1683.1" y1="3416.7" x2="1857.1" y2="3416.7" fill="none" stroke="#ff0000" stroke-width="6.42" stroke-dasharray="51.34 19.25 6.42 19.25 6.42 19.25"/>
<line x1="2100.21" y1="3320" x2="2274.21" y2="3320" fill="none" stroke="#00c070" stroke-width="6.42" stroke-linecap="round" stroke-dasharray="0.01 12.83"/>
<line x1="2100.21" y1="3416.7" x2="2274.21" y2="3416.7" fill="none" stroke="#00c070" stroke-width="6.42" stroke-linecap="round" stroke-dasharray="0.01 12.83"/>
<text x="213.11" y="3346.1" font-size="56.5" fill="#222" textLength="157.27" lengthAdjust="spacingAndGlyphs">Test_P</text>
<text x="213.11" y="3444.8" font-size="56.5" fill="#222" textLength="160.11" lengthAdjust="spacingAndGlyphs">Test_R</text>
<text x="628.34" y="3346.1" font-size="56.5" fill="#222" textLength="168.89" lengthAdjust="spacingAndGlyphs">Base_P</text>
<text x="628.34" y="3444.8" font-size="56.5" fill="#222" textLength="171.55" lengthAdjust="spacingAndGlyphs">Base_R</text>
<text x="1042.45" y="3346.1" font-size="56.5" fill="#222" textLength="185.5" lengthAdjust="spacingAndGlyphs">CR02_P</text>
<text x="1042.45" y="3444.8" font-size="56.5" fill="#222" textLength="188.21" lengthAdjust="spacingAndGlyphs">CR02_R</text>
<text x="1460.12" y="3346.1" font-size="56.5" fill="#222" textLength="179.96" lengthAdjust="spacingAndGlyphs">CR01_P</text>
<text x="1460.12" y="3444.8" font-size="56.5" fill="#222" textLength="182.58" lengthAdjust="spacingAndGlyphs">CR01_R</text>
<text x="1870.06" y="3346.1" font-size="56.5" fill="#222" textLength="184.78" lengthAdjust="spacingAndGlyphs">CR00_P</text>
<text x="1870.06" y="3444.8" font-size="56.5" fill="#222" textLength="187.48" lengthAdjust="spacingAndGlyphs">CR00_R</text>
<text x="2288.62" y="3346.1" font-size="56.5" fill="#222" textLength="179.96" lengthAdjust="spacingAndGlyphs">CR03_P</text>
<text x="2288.62" y="3444.8" font-size="56.5" fill="#222" textLength="182.58" lengthAdjust="spacingAndGlyphs">CR03_R</text>
<text x="1187.2" y="4828.3" font-family="Liberation Serif, serif" font-size="85" fill="#000">(<tspan font-weight="bold">e</tspan>)</text>
</svg></body></html>
